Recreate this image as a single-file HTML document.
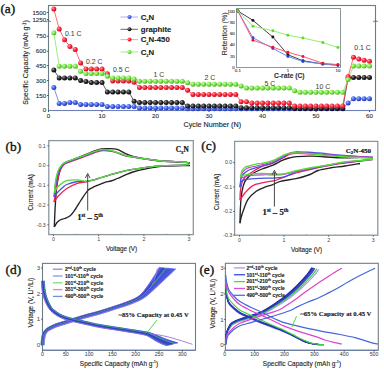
<!DOCTYPE html>
<html><head><meta charset="utf-8"><style>
html,body{margin:0;padding:0;background:#fff;width:384px;height:372px;overflow:hidden}
svg{display:block}
</style></head><body>
<svg width="384" height="372" viewBox="0 0 384 372">
<defs>
<radialGradient id="gR" cx="0.35" cy="0.35" r="0.75"><stop offset="0" stop-color="#ff9aa6"/><stop offset="0.45" stop-color="#ff2a3c"/><stop offset="1" stop-color="#b0001a"/></radialGradient>
<radialGradient id="gG" cx="0.35" cy="0.35" r="0.75"><stop offset="0" stop-color="#c8ffb0"/><stop offset="0.45" stop-color="#7ee84a"/><stop offset="1" stop-color="#3aa010"/></radialGradient>
<radialGradient id="gK" cx="0.35" cy="0.35" r="0.75"><stop offset="0" stop-color="#9a9a9a"/><stop offset="0.45" stop-color="#2a2a2a"/><stop offset="1" stop-color="#000000"/></radialGradient>
<radialGradient id="gB" cx="0.35" cy="0.35" r="0.75"><stop offset="0" stop-color="#a8b8ff"/><stop offset="0.45" stop-color="#4466ee"/><stop offset="1" stop-color="#1a2aa8"/></radialGradient>
</defs>
<rect width="384" height="372" fill="#ffffff"/>
<rect x="48.5" y="5.5" width="327" height="105" fill="none" stroke="#707c82" stroke-width="1.1"/>
<line x1="48.5" y1="110.5" x2="375.5" y2="110.5" stroke="#7080b8" stroke-width="1.1"/>
<path d="M53.85 87.5 L59.2 103.4 L64.55 103.4 L69.9 102.4 L75.25 102.4 L80.6 104.4 L85.95 104.4 L91.3 104.4 L96.65 104.4 L102 104.4 L107.35 106.5 L112.7 106.5 L118.05 106.5 L123.4 106.5 L128.75 106.5 L134.1 106.5 L139.45 108 L144.8 108 L150.15 108 L155.5 108 L160.85 108 L166.2 108 L171.55 108 L176.9 108 L182.25 108 L187.6 108.8 L192.95 108.8 L198.3 108.8 L203.65 108.8 L209 108.8 L214.35 108.8 L219.7 108.8 L225.05 108.8 L230.4 108.8 L235.75 108.8 L241.1 108.8 L246.45 108.8 L251.8 108.8 L257.15 108.8 L262.5 108.8 L267.85 108.8 L273.2 108.8 L278.55 108.8 L283.9 108.8 L289.25 108.8 L294.6 108.8 L299.95 108.8 L305.3 108.8 L310.65 108.8 L316 108.8 L321.35 108.8 L326.7 108.8 L332.05 108.8 L337.4 108.8 L342.75 108.8 L348.1 102.9 L353.45 98.7 L358.8 98.7 L364.15 98.7 L369.5 98.7" fill="none" stroke="#5577ee" stroke-width="0.8" stroke-linejoin="round" />
<path d="M53.85 70 L59.2 77.9 L64.55 77.9 L69.9 77.9 L75.25 77.9 L80.6 80.6 L85.95 81.6 L91.3 82.6 L96.65 82.6 L102 82.6 L107.35 92 L112.7 92 L118.05 92 L123.4 92 L128.75 92 L134.1 101.2 L139.45 102.6 L144.8 102.6 L150.15 102.6 L155.5 102.6 L160.85 102.6 L166.2 102.6 L171.55 102.6 L176.9 102.6 L182.25 102.6 L187.6 106.1 L192.95 106.1 L198.3 106.1 L203.65 106.1 L209 106.1 L214.35 106.1 L219.7 106.1 L225.05 106.1 L230.4 106.1 L235.75 106.1 L241.1 107.7 L246.45 107.7 L251.8 107.7 L257.15 107.7 L262.5 107.7 L267.85 107.7 L273.2 107.7 L278.55 107.7 L283.9 107.7 L289.25 107.7 L294.6 108.4 L299.95 108.4 L305.3 108.4 L310.65 108.4 L316 108.4 L321.35 108.4 L326.7 108.4 L332.05 108.4 L337.4 108.4 L342.75 108.4 L348.1 78 L353.45 77.5 L358.8 77.5 L364.15 77.5 L369.5 77.5" fill="none" stroke="#333333" stroke-width="0.8" stroke-linejoin="round" />
<path d="M53.85 9 L59.2 29 L64.55 39.75 L69.9 46.6 L75.25 49.4 L80.6 62.9 L85.95 69 L91.3 69 L96.65 69 L102 69 L107.35 73.7 L112.7 81 L118.05 81 L123.4 81 L128.75 81 L134.1 82.2 L139.45 87.5 L144.8 87.5 L150.15 87.5 L155.5 87.5 L160.85 87.5 L166.2 87.5 L171.55 87.5 L176.9 87.5 L182.25 87.5 L187.6 90.3 L192.95 94.4 L198.3 94.4 L203.65 94.4 L209 94.4 L214.35 94.4 L219.7 94.4 L225.05 94.4 L230.4 94.4 L235.75 94.4 L241.1 101.8 L246.45 101.8 L251.8 103.1 L257.15 103.1 L262.5 103.1 L267.85 103.1 L273.2 103.1 L278.55 103.1 L283.9 103.1 L289.25 103.1 L294.6 106 L299.95 106 L305.3 106 L310.65 106 L316 106 L321.35 106 L326.7 106 L332.05 106 L337.4 106 L342.75 106 L348.1 76.5 L353.45 57.3 L358.8 59.1 L364.15 60.2 L369.5 61.2" fill="none" stroke="#ff4455" stroke-width="0.8" stroke-linejoin="round" />
<path d="M53.85 32.75 L59.2 66.25 L64.55 66.25 L69.9 66.25 L75.25 66.25 L80.6 71.25 L85.95 73.6 L91.3 73.6 L96.65 73.6 L102 73.6 L107.35 76.3 L112.7 77.9 L118.05 77.9 L123.4 77.9 L128.75 77.9 L134.1 79 L139.45 81.2 L144.8 81.2 L150.15 81.2 L155.5 81.2 L160.85 81.2 L166.2 81.2 L171.55 81.2 L176.9 81.2 L182.25 81.2 L187.6 82.7 L192.95 84.2 L198.3 84.2 L203.65 84.2 L209 84.2 L214.35 84.2 L219.7 84.2 L225.05 84.2 L230.4 84.2 L235.75 84.2 L241.1 86 L246.45 88.1 L251.8 88.1 L257.15 88.1 L262.5 88.1 L267.85 88.1 L273.2 88.1 L278.55 88.1 L283.9 88.1 L289.25 88.1 L294.6 90.75 L299.95 92.3 L305.3 92.3 L310.65 92.3 L316 92.3 L321.35 92.3 L326.7 92.3 L332.05 92.3 L337.4 92.3 L342.75 92.3 L348.1 79.6 L353.45 66.1 L358.8 66.1 L364.15 66.1 L369.5 66.1" fill="none" stroke="#80e860" stroke-width="0.8" stroke-linejoin="round" />
<circle cx="53.85" cy="87.5" r="2.5" fill="url(#gB)"/>
<circle cx="59.2" cy="103.4" r="2.5" fill="url(#gB)"/>
<circle cx="64.55" cy="103.4" r="2.5" fill="url(#gB)"/>
<circle cx="69.9" cy="102.4" r="2.5" fill="url(#gB)"/>
<circle cx="75.25" cy="102.4" r="2.5" fill="url(#gB)"/>
<circle cx="80.6" cy="104.4" r="2.5" fill="url(#gB)"/>
<circle cx="85.95" cy="104.4" r="2.5" fill="url(#gB)"/>
<circle cx="91.3" cy="104.4" r="2.5" fill="url(#gB)"/>
<circle cx="96.65" cy="104.4" r="2.5" fill="url(#gB)"/>
<circle cx="102" cy="104.4" r="2.5" fill="url(#gB)"/>
<circle cx="107.35" cy="106.5" r="2.5" fill="url(#gB)"/>
<circle cx="112.7" cy="106.5" r="2.5" fill="url(#gB)"/>
<circle cx="118.05" cy="106.5" r="2.5" fill="url(#gB)"/>
<circle cx="123.4" cy="106.5" r="2.5" fill="url(#gB)"/>
<circle cx="128.75" cy="106.5" r="2.5" fill="url(#gB)"/>
<circle cx="134.1" cy="106.5" r="2.5" fill="url(#gB)"/>
<circle cx="139.45" cy="108" r="2.5" fill="url(#gB)"/>
<circle cx="144.8" cy="108" r="2.5" fill="url(#gB)"/>
<circle cx="150.15" cy="108" r="2.5" fill="url(#gB)"/>
<circle cx="155.5" cy="108" r="2.5" fill="url(#gB)"/>
<circle cx="160.85" cy="108" r="2.5" fill="url(#gB)"/>
<circle cx="166.2" cy="108" r="2.5" fill="url(#gB)"/>
<circle cx="171.55" cy="108" r="2.5" fill="url(#gB)"/>
<circle cx="176.9" cy="108" r="2.5" fill="url(#gB)"/>
<circle cx="182.25" cy="108" r="2.5" fill="url(#gB)"/>
<circle cx="187.6" cy="108.8" r="2.5" fill="url(#gB)"/>
<circle cx="192.95" cy="108.8" r="2.5" fill="url(#gB)"/>
<circle cx="198.3" cy="108.8" r="2.5" fill="url(#gB)"/>
<circle cx="203.65" cy="108.8" r="2.5" fill="url(#gB)"/>
<circle cx="209" cy="108.8" r="2.5" fill="url(#gB)"/>
<circle cx="214.35" cy="108.8" r="2.5" fill="url(#gB)"/>
<circle cx="219.7" cy="108.8" r="2.5" fill="url(#gB)"/>
<circle cx="225.05" cy="108.8" r="2.5" fill="url(#gB)"/>
<circle cx="230.4" cy="108.8" r="2.5" fill="url(#gB)"/>
<circle cx="235.75" cy="108.8" r="2.5" fill="url(#gB)"/>
<circle cx="241.1" cy="108.8" r="2.5" fill="url(#gB)"/>
<circle cx="246.45" cy="108.8" r="2.5" fill="url(#gB)"/>
<circle cx="251.8" cy="108.8" r="2.5" fill="url(#gB)"/>
<circle cx="257.15" cy="108.8" r="2.5" fill="url(#gB)"/>
<circle cx="262.5" cy="108.8" r="2.5" fill="url(#gB)"/>
<circle cx="267.85" cy="108.8" r="2.5" fill="url(#gB)"/>
<circle cx="273.2" cy="108.8" r="2.5" fill="url(#gB)"/>
<circle cx="278.55" cy="108.8" r="2.5" fill="url(#gB)"/>
<circle cx="283.9" cy="108.8" r="2.5" fill="url(#gB)"/>
<circle cx="289.25" cy="108.8" r="2.5" fill="url(#gB)"/>
<circle cx="294.6" cy="108.8" r="2.5" fill="url(#gB)"/>
<circle cx="299.95" cy="108.8" r="2.5" fill="url(#gB)"/>
<circle cx="305.3" cy="108.8" r="2.5" fill="url(#gB)"/>
<circle cx="310.65" cy="108.8" r="2.5" fill="url(#gB)"/>
<circle cx="316" cy="108.8" r="2.5" fill="url(#gB)"/>
<circle cx="321.35" cy="108.8" r="2.5" fill="url(#gB)"/>
<circle cx="326.7" cy="108.8" r="2.5" fill="url(#gB)"/>
<circle cx="332.05" cy="108.8" r="2.5" fill="url(#gB)"/>
<circle cx="337.4" cy="108.8" r="2.5" fill="url(#gB)"/>
<circle cx="342.75" cy="108.8" r="2.5" fill="url(#gB)"/>
<circle cx="348.1" cy="102.9" r="2.5" fill="url(#gB)"/>
<circle cx="353.45" cy="98.7" r="2.5" fill="url(#gB)"/>
<circle cx="358.8" cy="98.7" r="2.5" fill="url(#gB)"/>
<circle cx="364.15" cy="98.7" r="2.5" fill="url(#gB)"/>
<circle cx="369.5" cy="98.7" r="2.5" fill="url(#gB)"/>
<circle cx="53.85" cy="70" r="2.5" fill="url(#gK)"/>
<circle cx="59.2" cy="77.9" r="2.5" fill="url(#gK)"/>
<circle cx="64.55" cy="77.9" r="2.5" fill="url(#gK)"/>
<circle cx="69.9" cy="77.9" r="2.5" fill="url(#gK)"/>
<circle cx="75.25" cy="77.9" r="2.5" fill="url(#gK)"/>
<circle cx="80.6" cy="80.6" r="2.5" fill="url(#gK)"/>
<circle cx="85.95" cy="81.6" r="2.5" fill="url(#gK)"/>
<circle cx="91.3" cy="82.6" r="2.5" fill="url(#gK)"/>
<circle cx="96.65" cy="82.6" r="2.5" fill="url(#gK)"/>
<circle cx="102" cy="82.6" r="2.5" fill="url(#gK)"/>
<circle cx="107.35" cy="92" r="2.5" fill="url(#gK)"/>
<circle cx="112.7" cy="92" r="2.5" fill="url(#gK)"/>
<circle cx="118.05" cy="92" r="2.5" fill="url(#gK)"/>
<circle cx="123.4" cy="92" r="2.5" fill="url(#gK)"/>
<circle cx="128.75" cy="92" r="2.5" fill="url(#gK)"/>
<circle cx="134.1" cy="101.2" r="2.5" fill="url(#gK)"/>
<circle cx="139.45" cy="102.6" r="2.5" fill="url(#gK)"/>
<circle cx="144.8" cy="102.6" r="2.5" fill="url(#gK)"/>
<circle cx="150.15" cy="102.6" r="2.5" fill="url(#gK)"/>
<circle cx="155.5" cy="102.6" r="2.5" fill="url(#gK)"/>
<circle cx="160.85" cy="102.6" r="2.5" fill="url(#gK)"/>
<circle cx="166.2" cy="102.6" r="2.5" fill="url(#gK)"/>
<circle cx="171.55" cy="102.6" r="2.5" fill="url(#gK)"/>
<circle cx="176.9" cy="102.6" r="2.5" fill="url(#gK)"/>
<circle cx="182.25" cy="102.6" r="2.5" fill="url(#gK)"/>
<circle cx="187.6" cy="106.1" r="2.5" fill="url(#gK)"/>
<circle cx="192.95" cy="106.1" r="2.5" fill="url(#gK)"/>
<circle cx="198.3" cy="106.1" r="2.5" fill="url(#gK)"/>
<circle cx="203.65" cy="106.1" r="2.5" fill="url(#gK)"/>
<circle cx="209" cy="106.1" r="2.5" fill="url(#gK)"/>
<circle cx="214.35" cy="106.1" r="2.5" fill="url(#gK)"/>
<circle cx="219.7" cy="106.1" r="2.5" fill="url(#gK)"/>
<circle cx="225.05" cy="106.1" r="2.5" fill="url(#gK)"/>
<circle cx="230.4" cy="106.1" r="2.5" fill="url(#gK)"/>
<circle cx="235.75" cy="106.1" r="2.5" fill="url(#gK)"/>
<circle cx="241.1" cy="107.7" r="2.5" fill="url(#gK)"/>
<circle cx="246.45" cy="107.7" r="2.5" fill="url(#gK)"/>
<circle cx="251.8" cy="107.7" r="2.5" fill="url(#gK)"/>
<circle cx="257.15" cy="107.7" r="2.5" fill="url(#gK)"/>
<circle cx="262.5" cy="107.7" r="2.5" fill="url(#gK)"/>
<circle cx="267.85" cy="107.7" r="2.5" fill="url(#gK)"/>
<circle cx="273.2" cy="107.7" r="2.5" fill="url(#gK)"/>
<circle cx="278.55" cy="107.7" r="2.5" fill="url(#gK)"/>
<circle cx="283.9" cy="107.7" r="2.5" fill="url(#gK)"/>
<circle cx="289.25" cy="107.7" r="2.5" fill="url(#gK)"/>
<circle cx="294.6" cy="108.4" r="2.5" fill="url(#gK)"/>
<circle cx="299.95" cy="108.4" r="2.5" fill="url(#gK)"/>
<circle cx="305.3" cy="108.4" r="2.5" fill="url(#gK)"/>
<circle cx="310.65" cy="108.4" r="2.5" fill="url(#gK)"/>
<circle cx="316" cy="108.4" r="2.5" fill="url(#gK)"/>
<circle cx="321.35" cy="108.4" r="2.5" fill="url(#gK)"/>
<circle cx="326.7" cy="108.4" r="2.5" fill="url(#gK)"/>
<circle cx="332.05" cy="108.4" r="2.5" fill="url(#gK)"/>
<circle cx="337.4" cy="108.4" r="2.5" fill="url(#gK)"/>
<circle cx="342.75" cy="108.4" r="2.5" fill="url(#gK)"/>
<circle cx="348.1" cy="78" r="2.5" fill="url(#gK)"/>
<circle cx="353.45" cy="77.5" r="2.5" fill="url(#gK)"/>
<circle cx="358.8" cy="77.5" r="2.5" fill="url(#gK)"/>
<circle cx="364.15" cy="77.5" r="2.5" fill="url(#gK)"/>
<circle cx="369.5" cy="77.5" r="2.5" fill="url(#gK)"/>
<circle cx="53.85" cy="9" r="2.5" fill="url(#gR)"/>
<circle cx="59.2" cy="29" r="2.5" fill="url(#gR)"/>
<circle cx="64.55" cy="39.75" r="2.5" fill="url(#gR)"/>
<circle cx="69.9" cy="46.6" r="2.5" fill="url(#gR)"/>
<circle cx="75.25" cy="49.4" r="2.5" fill="url(#gR)"/>
<circle cx="80.6" cy="62.9" r="2.5" fill="url(#gR)"/>
<circle cx="85.95" cy="69" r="2.5" fill="url(#gR)"/>
<circle cx="91.3" cy="69" r="2.5" fill="url(#gR)"/>
<circle cx="96.65" cy="69" r="2.5" fill="url(#gR)"/>
<circle cx="102" cy="69" r="2.5" fill="url(#gR)"/>
<circle cx="107.35" cy="73.7" r="2.5" fill="url(#gR)"/>
<circle cx="112.7" cy="81" r="2.5" fill="url(#gR)"/>
<circle cx="118.05" cy="81" r="2.5" fill="url(#gR)"/>
<circle cx="123.4" cy="81" r="2.5" fill="url(#gR)"/>
<circle cx="128.75" cy="81" r="2.5" fill="url(#gR)"/>
<circle cx="134.1" cy="82.2" r="2.5" fill="url(#gR)"/>
<circle cx="139.45" cy="87.5" r="2.5" fill="url(#gR)"/>
<circle cx="144.8" cy="87.5" r="2.5" fill="url(#gR)"/>
<circle cx="150.15" cy="87.5" r="2.5" fill="url(#gR)"/>
<circle cx="155.5" cy="87.5" r="2.5" fill="url(#gR)"/>
<circle cx="160.85" cy="87.5" r="2.5" fill="url(#gR)"/>
<circle cx="166.2" cy="87.5" r="2.5" fill="url(#gR)"/>
<circle cx="171.55" cy="87.5" r="2.5" fill="url(#gR)"/>
<circle cx="176.9" cy="87.5" r="2.5" fill="url(#gR)"/>
<circle cx="182.25" cy="87.5" r="2.5" fill="url(#gR)"/>
<circle cx="187.6" cy="90.3" r="2.5" fill="url(#gR)"/>
<circle cx="192.95" cy="94.4" r="2.5" fill="url(#gR)"/>
<circle cx="198.3" cy="94.4" r="2.5" fill="url(#gR)"/>
<circle cx="203.65" cy="94.4" r="2.5" fill="url(#gR)"/>
<circle cx="209" cy="94.4" r="2.5" fill="url(#gR)"/>
<circle cx="214.35" cy="94.4" r="2.5" fill="url(#gR)"/>
<circle cx="219.7" cy="94.4" r="2.5" fill="url(#gR)"/>
<circle cx="225.05" cy="94.4" r="2.5" fill="url(#gR)"/>
<circle cx="230.4" cy="94.4" r="2.5" fill="url(#gR)"/>
<circle cx="235.75" cy="94.4" r="2.5" fill="url(#gR)"/>
<circle cx="241.1" cy="101.8" r="2.5" fill="url(#gR)"/>
<circle cx="246.45" cy="101.8" r="2.5" fill="url(#gR)"/>
<circle cx="251.8" cy="103.1" r="2.5" fill="url(#gR)"/>
<circle cx="257.15" cy="103.1" r="2.5" fill="url(#gR)"/>
<circle cx="262.5" cy="103.1" r="2.5" fill="url(#gR)"/>
<circle cx="267.85" cy="103.1" r="2.5" fill="url(#gR)"/>
<circle cx="273.2" cy="103.1" r="2.5" fill="url(#gR)"/>
<circle cx="278.55" cy="103.1" r="2.5" fill="url(#gR)"/>
<circle cx="283.9" cy="103.1" r="2.5" fill="url(#gR)"/>
<circle cx="289.25" cy="103.1" r="2.5" fill="url(#gR)"/>
<circle cx="294.6" cy="106" r="2.5" fill="url(#gR)"/>
<circle cx="299.95" cy="106" r="2.5" fill="url(#gR)"/>
<circle cx="305.3" cy="106" r="2.5" fill="url(#gR)"/>
<circle cx="310.65" cy="106" r="2.5" fill="url(#gR)"/>
<circle cx="316" cy="106" r="2.5" fill="url(#gR)"/>
<circle cx="321.35" cy="106" r="2.5" fill="url(#gR)"/>
<circle cx="326.7" cy="106" r="2.5" fill="url(#gR)"/>
<circle cx="332.05" cy="106" r="2.5" fill="url(#gR)"/>
<circle cx="337.4" cy="106" r="2.5" fill="url(#gR)"/>
<circle cx="342.75" cy="106" r="2.5" fill="url(#gR)"/>
<circle cx="348.1" cy="76.5" r="2.5" fill="url(#gR)"/>
<circle cx="353.45" cy="57.3" r="2.5" fill="url(#gR)"/>
<circle cx="358.8" cy="59.1" r="2.5" fill="url(#gR)"/>
<circle cx="364.15" cy="60.2" r="2.5" fill="url(#gR)"/>
<circle cx="369.5" cy="61.2" r="2.5" fill="url(#gR)"/>
<circle cx="53.85" cy="32.75" r="2.5" fill="url(#gG)"/>
<circle cx="59.2" cy="66.25" r="2.5" fill="url(#gG)"/>
<circle cx="64.55" cy="66.25" r="2.5" fill="url(#gG)"/>
<circle cx="69.9" cy="66.25" r="2.5" fill="url(#gG)"/>
<circle cx="75.25" cy="66.25" r="2.5" fill="url(#gG)"/>
<circle cx="80.6" cy="71.25" r="2.5" fill="url(#gG)"/>
<circle cx="85.95" cy="73.6" r="2.5" fill="url(#gG)"/>
<circle cx="91.3" cy="73.6" r="2.5" fill="url(#gG)"/>
<circle cx="96.65" cy="73.6" r="2.5" fill="url(#gG)"/>
<circle cx="102" cy="73.6" r="2.5" fill="url(#gG)"/>
<circle cx="107.35" cy="76.3" r="2.5" fill="url(#gG)"/>
<circle cx="112.7" cy="77.9" r="2.5" fill="url(#gG)"/>
<circle cx="118.05" cy="77.9" r="2.5" fill="url(#gG)"/>
<circle cx="123.4" cy="77.9" r="2.5" fill="url(#gG)"/>
<circle cx="128.75" cy="77.9" r="2.5" fill="url(#gG)"/>
<circle cx="134.1" cy="79" r="2.5" fill="url(#gG)"/>
<circle cx="139.45" cy="81.2" r="2.5" fill="url(#gG)"/>
<circle cx="144.8" cy="81.2" r="2.5" fill="url(#gG)"/>
<circle cx="150.15" cy="81.2" r="2.5" fill="url(#gG)"/>
<circle cx="155.5" cy="81.2" r="2.5" fill="url(#gG)"/>
<circle cx="160.85" cy="81.2" r="2.5" fill="url(#gG)"/>
<circle cx="166.2" cy="81.2" r="2.5" fill="url(#gG)"/>
<circle cx="171.55" cy="81.2" r="2.5" fill="url(#gG)"/>
<circle cx="176.9" cy="81.2" r="2.5" fill="url(#gG)"/>
<circle cx="182.25" cy="81.2" r="2.5" fill="url(#gG)"/>
<circle cx="187.6" cy="82.7" r="2.5" fill="url(#gG)"/>
<circle cx="192.95" cy="84.2" r="2.5" fill="url(#gG)"/>
<circle cx="198.3" cy="84.2" r="2.5" fill="url(#gG)"/>
<circle cx="203.65" cy="84.2" r="2.5" fill="url(#gG)"/>
<circle cx="209" cy="84.2" r="2.5" fill="url(#gG)"/>
<circle cx="214.35" cy="84.2" r="2.5" fill="url(#gG)"/>
<circle cx="219.7" cy="84.2" r="2.5" fill="url(#gG)"/>
<circle cx="225.05" cy="84.2" r="2.5" fill="url(#gG)"/>
<circle cx="230.4" cy="84.2" r="2.5" fill="url(#gG)"/>
<circle cx="235.75" cy="84.2" r="2.5" fill="url(#gG)"/>
<circle cx="241.1" cy="86" r="2.5" fill="url(#gG)"/>
<circle cx="246.45" cy="88.1" r="2.5" fill="url(#gG)"/>
<circle cx="251.8" cy="88.1" r="2.5" fill="url(#gG)"/>
<circle cx="257.15" cy="88.1" r="2.5" fill="url(#gG)"/>
<circle cx="262.5" cy="88.1" r="2.5" fill="url(#gG)"/>
<circle cx="267.85" cy="88.1" r="2.5" fill="url(#gG)"/>
<circle cx="273.2" cy="88.1" r="2.5" fill="url(#gG)"/>
<circle cx="278.55" cy="88.1" r="2.5" fill="url(#gG)"/>
<circle cx="283.9" cy="88.1" r="2.5" fill="url(#gG)"/>
<circle cx="289.25" cy="88.1" r="2.5" fill="url(#gG)"/>
<circle cx="294.6" cy="90.75" r="2.5" fill="url(#gG)"/>
<circle cx="299.95" cy="92.3" r="2.5" fill="url(#gG)"/>
<circle cx="305.3" cy="92.3" r="2.5" fill="url(#gG)"/>
<circle cx="310.65" cy="92.3" r="2.5" fill="url(#gG)"/>
<circle cx="316" cy="92.3" r="2.5" fill="url(#gG)"/>
<circle cx="321.35" cy="92.3" r="2.5" fill="url(#gG)"/>
<circle cx="326.7" cy="92.3" r="2.5" fill="url(#gG)"/>
<circle cx="332.05" cy="92.3" r="2.5" fill="url(#gG)"/>
<circle cx="337.4" cy="92.3" r="2.5" fill="url(#gG)"/>
<circle cx="342.75" cy="92.3" r="2.5" fill="url(#gG)"/>
<circle cx="348.1" cy="79.6" r="2.5" fill="url(#gG)"/>
<circle cx="353.45" cy="66.1" r="2.5" fill="url(#gG)"/>
<circle cx="358.8" cy="66.1" r="2.5" fill="url(#gG)"/>
<circle cx="364.15" cy="66.1" r="2.5" fill="url(#gG)"/>
<circle cx="369.5" cy="66.1" r="2.5" fill="url(#gG)"/>
<text x="65" y="36.2" font-size="6.9" text-anchor="start" font-weight="normal" font-family='"Liberation Sans", sans-serif' fill="#444" stroke="#444" stroke-width="0.05" >0.1 C</text>
<text x="86" y="63.7" font-size="6.9" text-anchor="start" font-weight="normal" font-family='"Liberation Sans", sans-serif' fill="#444" stroke="#444" stroke-width="0.05" >0.2 C</text>
<text x="113" y="72.3" font-size="6.9" text-anchor="start" font-weight="normal" font-family='"Liberation Sans", sans-serif' fill="#444" stroke="#444" stroke-width="0.05" >0.5 C</text>
<text x="153.6" y="76.9" font-size="6.9" text-anchor="start" font-weight="normal" font-family='"Liberation Sans", sans-serif' fill="#444" stroke="#444" stroke-width="0.05" >1 C</text>
<text x="204.4" y="80.4" font-size="6.9" text-anchor="start" font-weight="normal" font-family='"Liberation Sans", sans-serif' fill="#444" stroke="#444" stroke-width="0.05" >2 C</text>
<text x="264.5" y="85.7" font-size="6.9" text-anchor="start" font-weight="normal" font-family='"Liberation Sans", sans-serif' fill="#444" stroke="#444" stroke-width="0.05" >5 C</text>
<text x="315.6" y="89.2" font-size="6.9" text-anchor="start" font-weight="normal" font-family='"Liberation Sans", sans-serif' fill="#444" stroke="#444" stroke-width="0.05" >10 C</text>
<text x="354.3" y="50.3" font-size="6.9" text-anchor="start" font-weight="normal" font-family='"Liberation Sans", sans-serif' fill="#444" stroke="#444" stroke-width="0.05" >0.1 C</text>
<text x="46.2" y="112.45" font-size="6.2" text-anchor="end" font-weight="normal" font-family='"Liberation Sans", sans-serif' fill="#333" stroke="#333" stroke-width="0.12" >0</text>
<text x="46.2" y="97.7" font-size="6.2" text-anchor="end" font-weight="normal" font-family='"Liberation Sans", sans-serif' fill="#333" stroke="#333" stroke-width="0.12" >150</text>
<text x="46.2" y="82.8" font-size="6.2" text-anchor="end" font-weight="normal" font-family='"Liberation Sans", sans-serif' fill="#333" stroke="#333" stroke-width="0.12" >300</text>
<text x="46.2" y="67.8" font-size="6.2" text-anchor="end" font-weight="normal" font-family='"Liberation Sans", sans-serif' fill="#333" stroke="#333" stroke-width="0.12" >450</text>
<text x="46.2" y="53.45" font-size="6.2" text-anchor="end" font-weight="normal" font-family='"Liberation Sans", sans-serif' fill="#333" stroke="#333" stroke-width="0.12" >600</text>
<text x="46.2" y="38.45" font-size="6.2" text-anchor="end" font-weight="normal" font-family='"Liberation Sans", sans-serif' fill="#333" stroke="#333" stroke-width="0.12" >750</text>
<text x="46.2" y="21.7" font-size="6.2" text-anchor="end" font-weight="normal" font-family='"Liberation Sans", sans-serif' fill="#333" stroke="#333" stroke-width="0.12" >1250</text>
<text x="46.2" y="14.7" font-size="6.2" text-anchor="end" font-weight="normal" font-family='"Liberation Sans", sans-serif' fill="#333" stroke="#333" stroke-width="0.12" >1500</text>
<line x1="47" y1="95.5" x2="48.5" y2="95.5" stroke="#445" stroke-width="0.9"/>
<line x1="47" y1="80.6" x2="48.5" y2="80.6" stroke="#445" stroke-width="0.9"/>
<line x1="47" y1="65.6" x2="48.5" y2="65.6" stroke="#445" stroke-width="0.9"/>
<line x1="47" y1="51.25" x2="48.5" y2="51.25" stroke="#445" stroke-width="0.9"/>
<line x1="47" y1="36.25" x2="48.5" y2="36.25" stroke="#445" stroke-width="0.9"/>
<line x1="47" y1="19.5" x2="48.5" y2="19.5" stroke="#445" stroke-width="0.9"/>
<line x1="47" y1="12.5" x2="48.5" y2="12.5" stroke="#445" stroke-width="0.9"/>
<text x="48.5" y="117.7" font-size="6.2" text-anchor="middle" font-weight="normal" font-family='"Liberation Sans", sans-serif' fill="#333" stroke="#333" stroke-width="0.12" >0</text>
<line x1="48.5" y1="110.5" x2="48.5" y2="112" stroke="#445" stroke-width="0.9"/>
<text x="102" y="117.7" font-size="6.2" text-anchor="middle" font-weight="normal" font-family='"Liberation Sans", sans-serif' fill="#333" stroke="#333" stroke-width="0.12" >10</text>
<line x1="102" y1="110.5" x2="102" y2="112" stroke="#445" stroke-width="0.9"/>
<text x="155.5" y="117.7" font-size="6.2" text-anchor="middle" font-weight="normal" font-family='"Liberation Sans", sans-serif' fill="#333" stroke="#333" stroke-width="0.12" >20</text>
<line x1="155.5" y1="110.5" x2="155.5" y2="112" stroke="#445" stroke-width="0.9"/>
<text x="209" y="117.7" font-size="6.2" text-anchor="middle" font-weight="normal" font-family='"Liberation Sans", sans-serif' fill="#333" stroke="#333" stroke-width="0.12" >30</text>
<line x1="209" y1="110.5" x2="209" y2="112" stroke="#445" stroke-width="0.9"/>
<text x="262.5" y="117.7" font-size="6.2" text-anchor="middle" font-weight="normal" font-family='"Liberation Sans", sans-serif' fill="#333" stroke="#333" stroke-width="0.12" >40</text>
<line x1="262.5" y1="110.5" x2="262.5" y2="112" stroke="#445" stroke-width="0.9"/>
<text x="316" y="117.7" font-size="6.2" text-anchor="middle" font-weight="normal" font-family='"Liberation Sans", sans-serif' fill="#333" stroke="#333" stroke-width="0.12" >50</text>
<line x1="316" y1="110.5" x2="316" y2="112" stroke="#445" stroke-width="0.9"/>
<text x="369.5" y="117.7" font-size="6.2" text-anchor="middle" font-weight="normal" font-family='"Liberation Sans", sans-serif' fill="#333" stroke="#333" stroke-width="0.12" >60</text>
<line x1="369.5" y1="110.5" x2="369.5" y2="112" stroke="#445" stroke-width="0.9"/>
<text x="212.3" y="126.8" font-size="7.2" text-anchor="middle" font-weight="normal" font-family='"Liberation Sans", sans-serif' fill="#222" stroke="#222" stroke-width="0.12" >Cycle Number (N)</text>
<text x="0" y="0" font-size="7" text-anchor="middle" font-weight="normal" font-family='"Liberation Sans", sans-serif' fill="#222" stroke="#222" stroke-width="0.12" transform="translate(28.4 62.5) rotate(-90)">Specific Capacity (mAh g<tspan font-size="4.5" dy="-2.5">-1</tspan><tspan dy="2.5">)</tspan></text>
<path d="M46 22 C48 20.5 50 20.5 51 22" fill="none" stroke="#555" stroke-width="0.8" stroke-linejoin="round" />
<path d="M373 22 C375 20.5 377 20.5 378 22" fill="none" stroke="#555" stroke-width="0.8" stroke-linejoin="round" />
<line x1="120.5" y1="17" x2="138" y2="17" stroke="#8aa0ff" stroke-width="0.8"/>
<circle cx="129.5" cy="17" r="2.0" fill="url(#gB)"/>
<text x="140.7" y="19.7" font-size="7.8" text-anchor="start" font-weight="bold" font-family='"Liberation Sans", sans-serif' fill="#222" stroke="#222" stroke-width="0.12" >C<tspan font-size="3.9" dy="2.2">2</tspan><tspan dy="-2.2">N</tspan></text>
<line x1="120.5" y1="29.3" x2="138" y2="29.3" stroke="#444" stroke-width="0.8"/>
<circle cx="129.5" cy="29.3" r="2.0" fill="url(#gK)"/>
<text x="140.7" y="32" font-size="7.8" text-anchor="start" font-weight="bold" font-family='"Liberation Sans", sans-serif' fill="#222" stroke="#222" stroke-width="0.12" >graphite</text>
<line x1="120.5" y1="39.6" x2="138" y2="39.6" stroke="#ff8a9a" stroke-width="0.8"/>
<circle cx="129.5" cy="39.6" r="2.0" fill="url(#gR)"/>
<text x="140.7" y="42.3" font-size="7.8" text-anchor="start" font-weight="bold" font-family='"Liberation Sans", sans-serif' fill="#222" stroke="#222" stroke-width="0.12" >C<tspan font-size="3.9" dy="2.2">2</tspan><tspan dy="-2.2">N-450</tspan></text>
<line x1="120.5" y1="52" x2="138" y2="52" stroke="#88ee66" stroke-width="0.8"/>
<circle cx="129.5" cy="52" r="2.0" fill="url(#gG)"/>
<text x="140.7" y="54.7" font-size="7.8" text-anchor="start" font-weight="bold" font-family='"Liberation Sans", sans-serif' fill="#222" stroke="#222" stroke-width="0.12" >C<tspan font-size="3.9" dy="2.2">3</tspan><tspan dy="-2.2">N</tspan></text>
<rect x="236.5" y="8.5" width="104" height="59" fill="#ffffff" stroke="#8c979c" stroke-width="1"/>
<path d="M237.9 11 L252.95 20.4 L272.85 37 L287.9 54.8 L302.95 60.7 L322.85 64 L337.9 65" fill="none" stroke="#444" stroke-width="1" stroke-linejoin="round" />
<circle cx="237.9" cy="11" r="1.45" fill="#111"/>
<circle cx="252.95" cy="20.4" r="1.45" fill="#111"/>
<circle cx="272.85" cy="37" r="1.45" fill="#111"/>
<circle cx="287.9" cy="54.8" r="1.45" fill="#111"/>
<circle cx="302.95" cy="60.7" r="1.45" fill="#111"/>
<circle cx="322.85" cy="64" r="1.45" fill="#111"/>
<circle cx="337.9" cy="65" r="1.45" fill="#111"/>
<path d="M237.9 11 L252.95 37.8 L272.85 48.4 L287.9 56.5 L302.95 61.5 L322.85 64 L337.9 65.5" fill="none" stroke="#6a8af0" stroke-width="1" stroke-linejoin="round" />
<circle cx="237.9" cy="11" r="1.45" fill="#2244dd"/>
<circle cx="252.95" cy="37.8" r="1.45" fill="#2244dd"/>
<circle cx="272.85" cy="48.4" r="1.45" fill="#2244dd"/>
<circle cx="287.9" cy="56.5" r="1.45" fill="#2244dd"/>
<circle cx="302.95" cy="61.5" r="1.45" fill="#2244dd"/>
<circle cx="322.85" cy="64" r="1.45" fill="#2244dd"/>
<circle cx="337.9" cy="65.5" r="1.45" fill="#2244dd"/>
<path d="M237.9 11 L252.95 40.2 L272.85 47.2 L287.9 52.3 L302.95 56.5 L322.85 63.2 L337.9 64.6" fill="none" stroke="#ff5a70" stroke-width="1" stroke-linejoin="round" />
<circle cx="237.9" cy="11" r="1.45" fill="#ee1133"/>
<circle cx="252.95" cy="40.2" r="1.45" fill="#ee1133"/>
<circle cx="272.85" cy="47.2" r="1.45" fill="#ee1133"/>
<circle cx="287.9" cy="52.3" r="1.45" fill="#ee1133"/>
<circle cx="302.95" cy="56.5" r="1.45" fill="#ee1133"/>
<circle cx="322.85" cy="63.2" r="1.45" fill="#ee1133"/>
<circle cx="337.9" cy="64.6" r="1.45" fill="#ee1133"/>
<path d="M237.9 11 L252.95 26.3 L272.85 30.7 L287.9 35.25 L302.95 38 L322.85 42.5 L337.9 47.5" fill="none" stroke="#90f070" stroke-width="1" stroke-linejoin="round" />
<circle cx="237.9" cy="11" r="1.45" fill="#55dd22"/>
<circle cx="252.95" cy="26.3" r="1.45" fill="#55dd22"/>
<circle cx="272.85" cy="30.7" r="1.45" fill="#55dd22"/>
<circle cx="287.9" cy="35.25" r="1.45" fill="#55dd22"/>
<circle cx="302.95" cy="38" r="1.45" fill="#55dd22"/>
<circle cx="322.85" cy="42.5" r="1.45" fill="#55dd22"/>
<circle cx="337.9" cy="47.5" r="1.45" fill="#55dd22"/>
<text x="234.8" y="12.5" font-size="4.4" text-anchor="end" font-weight="normal" font-family='"Liberation Sans", sans-serif' fill="#333" stroke="#333" stroke-width="0.1" >100</text>
<text x="234.8" y="23.5" font-size="4.4" text-anchor="end" font-weight="normal" font-family='"Liberation Sans", sans-serif' fill="#333" stroke="#333" stroke-width="0.1" >80</text>
<text x="234.8" y="35.4" font-size="4.4" text-anchor="end" font-weight="normal" font-family='"Liberation Sans", sans-serif' fill="#333" stroke="#333" stroke-width="0.1" >60</text>
<text x="234.8" y="46.3" font-size="4.4" text-anchor="end" font-weight="normal" font-family='"Liberation Sans", sans-serif' fill="#333" stroke="#333" stroke-width="0.1" >40</text>
<text x="234.8" y="57.75" font-size="4.4" text-anchor="end" font-weight="normal" font-family='"Liberation Sans", sans-serif' fill="#333" stroke="#333" stroke-width="0.1" >20</text>
<text x="234.8" y="68.7" font-size="4.4" text-anchor="end" font-weight="normal" font-family='"Liberation Sans", sans-serif' fill="#333" stroke="#333" stroke-width="0.1" >0</text>
<text x="237.9" y="71.6" font-size="4.4" text-anchor="middle" font-weight="normal" font-family='"Liberation Sans", sans-serif' fill="#333" stroke="#333" stroke-width="0.1" >0.1</text>
<text x="287.9" y="71.6" font-size="4.4" text-anchor="middle" font-weight="normal" font-family='"Liberation Sans", sans-serif' fill="#333" stroke="#333" stroke-width="0.1" >1</text>
<text x="337.9" y="71.6" font-size="4.4" text-anchor="middle" font-weight="normal" font-family='"Liberation Sans", sans-serif' fill="#333" stroke="#333" stroke-width="0.1" >10</text>
<text x="289.3" y="77.5" font-size="6.7" text-anchor="middle" font-weight="bold" font-family='"Liberation Sans", sans-serif' fill="#333" stroke="#333" stroke-width="0.12" >C-rate (C)</text>
<text x="0" y="0" font-size="7" text-anchor="middle" font-weight="normal" font-family='"Liberation Sans", sans-serif' fill="#333" stroke="#333" stroke-width="0.12" transform="translate(227.2 33.9) rotate(-90)">Retention (%)</text>
<text x="0.4" y="13.3" font-size="13.4" text-anchor="start" font-weight="normal" font-family='"Liberation Serif", serif' fill="#111" stroke="#111" stroke-width="0.35" >(a)</text>
<rect x="48.8" y="140.6" width="144.5" height="94" fill="none" stroke="#8c979c" stroke-width="1.3"/>
<text x="5.5" y="150.7" font-size="13.4" text-anchor="start" font-weight="normal" font-family='"Liberation Serif", serif' fill="#111" stroke="#111" stroke-width="0.35" >(b)</text>
<text x="45.8" y="147.55" font-size="5.3" text-anchor="end" font-weight="normal" font-family='"Liberation Sans", sans-serif' fill="#444" >0.1</text>
<line x1="47.3" y1="145.75" x2="48.8" y2="145.75" stroke="#445" stroke-width="0.8"/>
<text x="45.8" y="167.3" font-size="5.3" text-anchor="end" font-weight="normal" font-family='"Liberation Sans", sans-serif' fill="#444" >0.0</text>
<line x1="47.3" y1="165.5" x2="48.8" y2="165.5" stroke="#445" stroke-width="0.8"/>
<text x="45.8" y="187.1" font-size="5.3" text-anchor="end" font-weight="normal" font-family='"Liberation Sans", sans-serif' fill="#444" >-0.1</text>
<line x1="47.3" y1="185.3" x2="48.8" y2="185.3" stroke="#445" stroke-width="0.8"/>
<text x="45.8" y="206.8" font-size="5.3" text-anchor="end" font-weight="normal" font-family='"Liberation Sans", sans-serif' fill="#444" >-0.2</text>
<line x1="47.3" y1="205" x2="48.8" y2="205" stroke="#445" stroke-width="0.8"/>
<text x="45.8" y="226.6" font-size="5.3" text-anchor="end" font-weight="normal" font-family='"Liberation Sans", sans-serif' fill="#444" >-0.3</text>
<line x1="47.3" y1="224.8" x2="48.8" y2="224.8" stroke="#445" stroke-width="0.8"/>
<text x="53.5" y="241" font-size="5.3" text-anchor="middle" font-weight="normal" font-family='"Liberation Sans", sans-serif' fill="#444" >0</text>
<line x1="53.5" y1="234.6" x2="53.5" y2="236.1" stroke="#445" stroke-width="0.8"/>
<line x1="76.1" y1="234.6" x2="76.1" y2="233.4" stroke="#8c979c" stroke-width="0.6"/>
<text x="98.7" y="241" font-size="5.3" text-anchor="middle" font-weight="normal" font-family='"Liberation Sans", sans-serif' fill="#444" >1</text>
<line x1="98.7" y1="234.6" x2="98.7" y2="236.1" stroke="#445" stroke-width="0.8"/>
<line x1="121.3" y1="234.6" x2="121.3" y2="233.4" stroke="#8c979c" stroke-width="0.6"/>
<text x="143.9" y="241" font-size="5.3" text-anchor="middle" font-weight="normal" font-family='"Liberation Sans", sans-serif' fill="#444" >2</text>
<line x1="143.9" y1="234.6" x2="143.9" y2="236.1" stroke="#445" stroke-width="0.8"/>
<line x1="166.5" y1="234.6" x2="166.5" y2="233.4" stroke="#8c979c" stroke-width="0.6"/>
<text x="189.1" y="241" font-size="5.3" text-anchor="middle" font-weight="normal" font-family='"Liberation Sans", sans-serif' fill="#444" >3</text>
<line x1="189.1" y1="234.6" x2="189.1" y2="236.1" stroke="#445" stroke-width="0.8"/>
<text x="121.5" y="251" font-size="6.3" text-anchor="middle" font-weight="normal" font-family='"Liberation Sans", sans-serif' fill="#222" stroke="#222" stroke-width="0.12" >Voltage (V)</text>
<text x="0" y="0" font-size="6.3" text-anchor="middle" font-weight="normal" font-family='"Liberation Sans", sans-serif' fill="#222" stroke="#222" stroke-width="0.12" transform="translate(33.3 192.4) rotate(-90)">Current (mA)</text>
<text x="175.8" y="152.3" font-size="7.3" text-anchor="start" font-weight="bold" font-family='"Liberation Serif", serif' fill="#111" stroke="#111" stroke-width="0.2" >C<tspan font-size="4.6" dy="1.5">3</tspan><tspan dy="-1.5">N</tspan></text>
<path d="M190 165.5 C188.75 165.53 187.22 165.57 182.5 165.7 C177.78 165.83 167.78 165.77 161.7 166.3 C155.62 166.83 150.8 167.95 146 168.9 C141.2 169.85 136.4 170.95 132.9 172 C129.4 173.05 127.61 174.12 125 175.2 C122.39 176.28 119.58 177.53 117.25 178.5 C114.92 179.47 113.04 180.37 111 181 C108.96 181.63 107.17 181.6 105 182.3 C102.83 183 100.17 184.28 98 185.2 C95.83 186.12 93.72 186.9 92 187.8 C90.28 188.7 89.47 188.65 87.7 190.6 C85.93 192.55 83.43 196.43 81.4 199.5 C79.37 202.57 77.32 206.33 75.5 209 C73.68 211.67 72.29 213.92 70.5 215.5 C68.71 217.08 66.4 217.79 64.75 218.5 C63.1 219.21 61.89 219.08 60.6 219.75 C59.31 220.42 58.05 221.29 57 222.5 C55.95 223.71 54.75 226.25 54.3 227" fill="none" stroke="#222" stroke-width="1.35" stroke-linejoin="round" />
<path d="M54.3 227 C54.47 223.33 54.85 212 55.3 205 C55.75 198 56.3 190.5 57 185 C57.7 179.5 58.55 175.42 59.5 172 C60.45 168.58 61.12 166.33 62.7 164.5 C64.28 162.67 66.58 162.1 69 161 C71.42 159.9 74.42 158.98 77.25 157.9 C80.08 156.82 83.24 155.61 86 154.5 C88.76 153.39 91.2 152.17 93.8 151.25 C96.4 150.33 99 149.44 101.6 149 C104.2 148.56 106.79 148.53 109.4 148.6 C112.01 148.67 114.65 148.62 117.25 149.4 C119.85 150.18 122.39 152.13 125 153.3 C127.61 154.47 129.4 155.45 132.9 156.4 C136.4 157.35 141.2 158.23 146 159 C150.8 159.77 155.62 160.47 161.7 161 C167.78 161.53 177.78 161.87 182.5 162.2 C187.22 162.53 188.75 162.87 190 163" fill="none" stroke="#222" stroke-width="1.35" stroke-linejoin="round" />
<path d="M54 202 C54.33 200.15 55.37 194.75 56 190.9 C56.63 187.05 57.13 182.23 57.8 178.9 C58.47 175.57 59.02 173.23 60 170.9 C60.98 168.57 62.53 166.23 63.7 164.9 C64.87 163.57 65.95 163.42 67 162.9 C68.05 162.38 68.12 162.48 70 161.8 C71.88 161.12 75.42 159.82 78.25 158.8 C81.08 157.78 84.24 156.73 87 155.7 C89.76 154.67 92.2 153.45 94.8 152.6 C97.4 151.75 100 150.85 102.6 150.6 C105.2 150.35 107.83 150.67 110.4 151.1 C112.97 151.53 115.49 152.41 118.01 153.18 C120.53 153.96 122.98 155.09 125.5 155.75 C128.02 156.41 129.72 156.57 133.14 157.11 C136.55 157.65 141.24 158.35 146 159 C150.76 159.65 155.62 160.5 161.7 161 C167.78 161.5 177.99 161.72 182.5 162 C187.01 162.28 187.71 162.58 188.75 162.7" fill="none" stroke="#ee2255" stroke-width="1.3" stroke-linejoin="round" />
<path d="M188.75 164.5 C187.71 164.62 187.01 164.98 182.5 165.2 C177.99 165.42 167.78 165.45 161.7 165.8 C155.62 166.15 150.8 166.7 146 167.3 C141.2 167.9 136.4 168.8 132.9 169.4 C129.4 170 127.61 170.33 125 170.9 C122.39 171.47 119.85 172.08 117.25 172.8 C114.65 173.52 112.01 174.42 109.4 175.2 C106.79 175.98 104.2 176.73 101.6 177.5 C99 178.27 96.4 179.08 93.8 179.8 C91.2 180.52 88.76 181.22 86 181.8 C83.24 182.38 80.45 182.18 77.25 183.3 C74.05 184.42 69.92 186.42 66.8 188.5 C63.67 190.58 60.63 193.55 58.5 195.8 C56.37 198.05 54.75 200.97 54 202" fill="none" stroke="#ee2255" stroke-width="1.3" stroke-linejoin="round" />
<path d="M54 196.8 C54.25 195.08 54.95 189.84 55.5 186.45 C56.05 183.06 56.63 179.2 57.3 176.45 C57.97 173.7 58.52 171.95 59.5 169.95 C60.48 167.95 62.03 165.7 63.2 164.45 C64.37 163.2 65.45 162.97 66.5 162.45 C67.55 161.93 67.62 162.03 69.5 161.35 C71.38 160.67 74.92 159.37 77.75 158.35 C80.58 157.33 83.74 156.28 86.5 155.25 C89.26 154.22 91.7 153 94.3 152.15 C96.9 151.3 99.5 150.4 102.1 150.15 C104.7 149.9 107.31 150.2 109.9 150.65 C112.49 151.1 115.07 152.03 117.63 152.84 C120.19 153.65 122.69 154.83 125.25 155.53 C127.81 156.22 129.56 156.43 133.02 157.01 C136.48 157.59 141.22 158.33 146 159 C150.78 159.67 155.62 160.5 161.7 161 C167.78 161.5 177.99 161.72 182.5 162 C187.01 162.28 187.71 162.58 188.75 162.7" fill="none" stroke="#4455dd" stroke-width="1.3" stroke-linejoin="round" />
<path d="M188.75 164.5 C187.71 164.62 187.01 164.98 182.5 165.2 C177.99 165.42 167.78 165.45 161.7 165.8 C155.62 166.15 150.8 166.7 146 167.3 C141.2 167.9 136.4 168.8 132.9 169.4 C129.4 170 127.61 170.33 125 170.9 C122.39 171.47 119.85 172.08 117.25 172.8 C114.65 173.52 112.01 174.42 109.4 175.2 C106.79 175.98 104.2 176.73 101.6 177.5 C99 178.27 96.4 179.13 93.8 179.8 C91.2 180.47 88.76 181.22 86 181.5 C83.24 181.78 80.45 181 77.25 181.5 C74.05 182 69.22 183.5 66.8 184.5 C64.38 185.5 64.33 186.08 62.7 187.5 C61.07 188.92 58.45 191.45 57 193 C55.55 194.55 54.5 196.17 54 196.8" fill="none" stroke="#4455dd" stroke-width="1.3" stroke-linejoin="round" />
<path d="M54 196.8 C54.17 195 54.53 189.47 55 186 C55.47 182.53 56.13 178.75 56.8 176 C57.47 173.25 58.02 171.5 59 169.5 C59.98 167.5 61.53 165.25 62.7 164 C63.87 162.75 64.95 162.52 66 162 C67.05 161.48 67.12 161.58 69 160.9 C70.88 160.22 74.42 158.92 77.25 157.9 C80.08 156.88 83.24 155.83 86 154.8 C88.76 153.77 91.2 152.55 93.8 151.7 C96.4 150.85 99 149.95 101.6 149.7 C104.2 149.45 106.79 149.73 109.4 150.2 C112.01 150.67 114.65 151.65 117.25 152.5 C119.85 153.35 122.39 154.57 125 155.3 C127.61 156.03 129.4 156.28 132.9 156.9 C136.4 157.52 141.2 158.32 146 159 C150.8 159.68 155.62 160.5 161.7 161 C167.78 161.5 177.99 161.72 182.5 162 C187.01 162.28 187.71 162.58 188.75 162.7" fill="none" stroke="#aa44cc" stroke-width="0.7" stroke-linejoin="round" />
<path d="M54.5 192.7 C54.63 191.08 54.92 185.95 55.3 183 C55.68 180.05 56.18 177.37 56.8 175 C57.42 172.63 58.02 170.63 59 168.8 C59.98 166.97 61.53 165.13 62.7 164 C63.87 162.87 64.95 162.52 66 162 C67.05 161.48 67.12 161.58 69 160.9 C70.88 160.22 74.42 158.92 77.25 157.9 C80.08 156.88 83.24 155.83 86 154.8 C88.76 153.77 91.2 152.55 93.8 151.7 C96.4 150.85 99 149.95 101.6 149.7 C104.2 149.45 106.79 149.73 109.4 150.2 C112.01 150.67 114.65 151.65 117.25 152.5 C119.85 153.35 122.39 154.57 125 155.3 C127.61 156.03 129.4 156.28 132.9 156.9 C136.4 157.52 141.2 158.32 146 159 C150.8 159.68 155.62 160.5 161.7 161 C167.78 161.5 177.99 161.72 182.5 162 C187.01 162.28 187.71 162.58 188.75 162.7" fill="none" stroke="#55dd33" stroke-width="1.35" stroke-linejoin="round" />
<path d="M188.75 164.5 C187.71 164.62 187.01 164.98 182.5 165.2 C177.99 165.42 167.78 165.45 161.7 165.8 C155.62 166.15 150.8 166.7 146 167.3 C141.2 167.9 136.4 168.8 132.9 169.4 C129.4 170 127.61 170.33 125 170.9 C122.39 171.47 119.85 172.08 117.25 172.8 C114.65 173.52 112.01 174.42 109.4 175.2 C106.79 175.98 104.2 176.73 101.6 177.5 C99 178.27 96.4 179.18 93.8 179.8 C91.2 180.42 88.76 181.18 86 181.2 C83.24 181.22 80.45 180 77.25 179.9 C74.05 179.8 69.58 179.87 66.8 180.6 C64.02 181.33 62.4 182.9 60.6 184.3 C58.8 185.7 57.02 187.6 56 189 C54.98 190.4 54.75 192.08 54.5 192.7" fill="none" stroke="#55dd33" stroke-width="1.35" stroke-linejoin="round" />
<line x1="87.7" y1="210.5" x2="87.7" y2="175" stroke="#333" stroke-width="0.9"/>
<path d="M85.4 178 L87.7 173.4 L90 178" fill="none" stroke="#333" stroke-width="0.9" stroke-linejoin="round" />
<text x="77.2" y="220" font-size="8.7" text-anchor="start" font-weight="bold" font-family='"Liberation Serif", serif' fill="#111" stroke="#111" stroke-width="0.2" >1<tspan font-size="5.2" dy="-3.2">st</tspan><tspan dy="3.2"> – 5</tspan><tspan font-size="5.2" dy="-3.2">th</tspan></text>
<rect x="234.6" y="141.4" width="143.2" height="93.8" fill="none" stroke="#8c979c" stroke-width="1.3"/>
<text x="201.2" y="150.4" font-size="13.4" text-anchor="start" font-weight="normal" font-family='"Liberation Serif", serif' fill="#111" stroke="#111" stroke-width="0.35" >(c)</text>
<text x="232.3" y="164.4" font-size="5.3" text-anchor="end" font-weight="normal" font-family='"Liberation Sans", sans-serif' fill="#444" >0.0</text>
<line x1="233.1" y1="162.6" x2="234.6" y2="162.6" stroke="#445" stroke-width="0.8"/>
<text x="232.3" y="188.8" font-size="5.3" text-anchor="end" font-weight="normal" font-family='"Liberation Sans", sans-serif' fill="#444" >-0.1</text>
<line x1="233.1" y1="187" x2="234.6" y2="187" stroke="#445" stroke-width="0.8"/>
<text x="232.3" y="213.3" font-size="5.3" text-anchor="end" font-weight="normal" font-family='"Liberation Sans", sans-serif' fill="#444" >-0.2</text>
<line x1="233.1" y1="211.5" x2="234.6" y2="211.5" stroke="#445" stroke-width="0.8"/>
<text x="232.3" y="236.8" font-size="5.3" text-anchor="end" font-weight="normal" font-family='"Liberation Sans", sans-serif' fill="#444" >-0.3</text>
<line x1="233.1" y1="235" x2="234.6" y2="235" stroke="#445" stroke-width="0.8"/>
<text x="239.5" y="241.5" font-size="5.3" text-anchor="middle" font-weight="normal" font-family='"Liberation Sans", sans-serif' fill="#444" >0</text>
<line x1="239.5" y1="235.2" x2="239.5" y2="236.7" stroke="#445" stroke-width="0.8"/>
<line x1="261.8" y1="235.2" x2="261.8" y2="234" stroke="#8c979c" stroke-width="0.6"/>
<text x="284.1" y="241.5" font-size="5.3" text-anchor="middle" font-weight="normal" font-family='"Liberation Sans", sans-serif' fill="#444" >1</text>
<line x1="284.1" y1="235.2" x2="284.1" y2="236.7" stroke="#445" stroke-width="0.8"/>
<line x1="306.4" y1="235.2" x2="306.4" y2="234" stroke="#8c979c" stroke-width="0.6"/>
<text x="328.7" y="241.5" font-size="5.3" text-anchor="middle" font-weight="normal" font-family='"Liberation Sans", sans-serif' fill="#444" >2</text>
<line x1="328.7" y1="235.2" x2="328.7" y2="236.7" stroke="#445" stroke-width="0.8"/>
<line x1="351" y1="235.2" x2="351" y2="234" stroke="#8c979c" stroke-width="0.6"/>
<text x="373.3" y="241.5" font-size="5.3" text-anchor="middle" font-weight="normal" font-family='"Liberation Sans", sans-serif' fill="#444" >3</text>
<line x1="373.3" y1="235.2" x2="373.3" y2="236.7" stroke="#445" stroke-width="0.8"/>
<text x="306.5" y="251.5" font-size="6.3" text-anchor="middle" font-weight="normal" font-family='"Liberation Sans", sans-serif' fill="#222" stroke="#222" stroke-width="0.12" >Voltage (V)</text>
<text x="0" y="0" font-size="6.3" text-anchor="middle" font-weight="normal" font-family='"Liberation Sans", sans-serif' fill="#222" stroke="#222" stroke-width="0.12" transform="translate(218.6 191.8) rotate(-90)">Current (mA)</text>
<text x="345.8" y="152.7" font-size="7" text-anchor="start" font-weight="bold" font-family='"Liberation Serif", serif' fill="#111" stroke="#111" stroke-width="0.2" >C<tspan font-size="4.6" dy="1.5">2</tspan><tspan dy="-1.5">N-450</tspan></text>
<path d="M360 163.5 C357.5 163.92 350 165.25 345 166 C340 166.75 334.5 167.25 330 168 C325.5 168.75 321.33 169.42 318 170.5 C314.67 171.58 313.67 173.13 310 174.5 C306.33 175.87 300.93 177.57 296 178.7 C291.07 179.83 284.35 180.28 280.4 181.3 C276.45 182.32 274.98 183.8 272.3 184.8 C269.62 185.8 266.98 186.22 264.3 187.3 C261.62 188.38 258.92 189.28 256.2 191.3 C253.48 193.32 250.15 196.18 248 199.4 C245.85 202.62 244.47 207.5 243.3 210.6 C242.13 213.7 241.55 215.9 241 218 C240.45 220.1 240.17 222.33 240 223.2" fill="none" stroke="#222" stroke-width="1.35" stroke-linejoin="round" />
<path d="M240 223.2 C240.07 220.67 240.18 212.53 240.4 208 C240.62 203.47 240.87 199.5 241.3 196 C241.73 192.5 242.3 189.58 243 187 C243.7 184.42 244 182.67 245.5 180.5 C247 178.33 249.25 175.92 252 174 C254.75 172.08 258.6 170.43 262 169 C265.4 167.57 268.93 166.88 272.4 165.4 C275.87 163.92 280.03 161.33 282.8 160.1 C285.57 158.87 286.73 158.57 289 158 C291.27 157.43 292.57 157 296.4 156.7 C300.23 156.4 304.73 156.02 312 156.2 C319.27 156.38 332.33 157.57 340 157.8 C347.67 158.03 355 157.63 358 157.6" fill="none" stroke="#222" stroke-width="1.35" stroke-linejoin="round" />
<path d="M240 200.2 C240.08 198.5 240 193.37 240.5 190 C241 186.63 241.75 182.55 243 180 C244.25 177.45 244.83 176.97 248 174.7 C251.17 172.43 257.93 168.3 262 166.4 C266.07 164.5 268.93 164.7 272.4 163.3 C275.87 161.9 279.87 159.52 282.8 158 C285.73 156.48 287.73 154.97 290 154.2 C292.27 153.43 292.73 153.43 296.4 153.4 C300.07 153.37 304.73 153.57 312 154 C319.27 154.43 329.83 155.42 340 156 C350.17 156.58 367.5 157.25 373 157.5" fill="none" stroke="#ee2255" stroke-width="1.3" stroke-linejoin="round" />
<path d="M373 159.5 C367.5 160.2 350.17 162.12 340 163.7 C329.83 165.28 319.33 167.45 312 169 C304.67 170.55 301.33 171.38 296 173 C290.67 174.62 283.55 177.43 280 178.7 C276.45 179.97 277.32 179.98 274.7 180.6 C272.08 181.22 267.92 181.57 264.3 182.4 C260.68 183.23 256.23 183.83 253 185.6 C249.77 187.37 247.07 190.57 244.9 193 C242.73 195.43 240.82 199 240 200.2" fill="none" stroke="#ee2255" stroke-width="1.3" stroke-linejoin="round" />
<path d="M240 187.3 C240.18 185.75 240.48 180.25 241.1 178 C241.72 175.75 242.22 175.22 243.7 173.8 C245.18 172.38 246.95 170.8 250 169.5 C253.05 168.2 258.27 167.08 262 166 C265.73 164.92 268.93 164.42 272.4 163 C275.87 161.58 280.03 159.08 282.8 157.5 C285.57 155.92 286.73 154.45 289 153.5 C291.27 152.55 292.52 151.97 296.4 151.8 C300.28 151.63 308.03 152.27 312.3 152.5 C316.57 152.73 317.38 152.75 322 153.2 C326.62 153.65 331.5 154.52 340 155.2 C348.5 155.88 367.5 156.95 373 157.3" fill="none" stroke="#4455dd" stroke-width="1.3" stroke-linejoin="round" />
<path d="M373 159.3 C367.5 159.95 350.17 161.67 340 163.2 C329.83 164.73 319.33 167.03 312 168.5 C304.67 169.97 301 170.53 296 172 C291 173.47 288 176.23 282 177.3 C276 178.37 266.17 178.03 260 178.4 C253.83 178.77 248.17 178.9 245 179.5 C241.83 180.1 241.83 180.7 241 182 C240.17 183.3 240.17 186.42 240 187.3" fill="none" stroke="#4455dd" stroke-width="1.3" stroke-linejoin="round" />
<path d="M240.5 179 C240.83 177.92 241.67 174.12 242.5 172.5 C243.33 170.88 244.42 170.12 245.5 169.3 C246.58 168.48 246.25 168.35 249 167.6 C251.75 166.85 258.1 165.77 262 164.8 C265.9 163.83 268.93 163.18 272.4 161.8 C275.87 160.42 280.03 157.87 282.8 156.5 C285.57 155.13 286.73 154.25 289 153.6 C291.27 152.95 292.57 152.62 296.4 152.6 C300.23 152.58 304.73 153.02 312 153.5 C319.27 153.98 329.83 154.87 340 155.5 C350.17 156.13 367.5 157 373 157.3" fill="none" stroke="#bb44cc" stroke-width="1.1" stroke-linejoin="round" />
<path d="M373 159.3 C367.5 159.92 350.17 161.55 340 163 C329.83 164.45 319.33 166.58 312 168 C304.67 169.42 301 170.38 296 171.5 C291 172.62 287.17 174.15 282 174.7 C276.83 175.25 270.33 174.68 265 174.8 C259.67 174.92 253.67 174.95 250 175.4 C246.33 175.85 244.58 176.9 243 177.5 C241.42 178.1 240.92 178.75 240.5 179" fill="none" stroke="#bb44cc" stroke-width="1.1" stroke-linejoin="round" />
<path d="M240.5 176.7 C240.75 175.67 241.25 172.07 242 170.5 C242.75 168.93 243.83 168.07 245 167.3 C246.17 166.53 246.83 166.5 249 165.9 C251.17 165.3 255.83 164.12 258 163.7 C260.17 163.28 259.6 163.9 262 163.4 C264.4 162.9 268.93 162.02 272.4 160.7 C275.87 159.38 280.03 156.73 282.8 155.5 C285.57 154.27 286.73 153.75 289 153.3 C291.27 152.85 292.57 152.72 296.4 152.8 C300.23 152.88 304.73 153.18 312 153.8 C319.27 154.42 329.83 155.75 340 156.5 C350.17 157.25 367.5 158 373 158.3" fill="none" stroke="#55dd33" stroke-width="1.35" stroke-linejoin="round" />
<path d="M373 159.3 C371.67 159.45 369.67 159.78 365 160.2 C360.33 160.62 349.17 161.4 345 161.8 C340.83 162.2 342.83 162.07 340 162.6 C337.17 163.13 332.67 164.18 328 165 C323.33 165.82 317.33 166.55 312 167.5 C306.67 168.45 301 169.62 296 170.7 C291 171.78 287.67 173.55 282 174 C276.33 174.45 267.17 173.43 262 173.4 C256.83 173.37 254.17 173.45 251 173.8 C247.83 174.15 244.75 175.02 243 175.5 C241.25 175.98 240.92 176.5 240.5 176.7" fill="none" stroke="#55dd33" stroke-width="1.35" stroke-linejoin="round" />
<line x1="274.4" y1="206.6" x2="274.4" y2="172" stroke="#333" stroke-width="0.9"/>
<path d="M272.1 174.8 L274.4 170.2 L276.7 174.8" fill="none" stroke="#333" stroke-width="0.9" stroke-linejoin="round" />
<text x="262.6" y="215" font-size="8.7" text-anchor="start" font-weight="bold" font-family='"Liberation Serif", serif' fill="#111" stroke="#111" stroke-width="0.2" >1<tspan font-size="5.2" dy="-3.2">st</tspan><tspan dy="3.2"> – 5</tspan><tspan font-size="5.2" dy="-3.2">th</tspan></text>
<rect x="42.5" y="263.4" width="153" height="86.9" fill="none" stroke="#707c82" stroke-width="1.1"/>
<line x1="42.5" y1="350.3" x2="195.5" y2="350.3" stroke="#6878a8" stroke-width="1.1"/>
<text x="5.5" y="273.9" font-size="13.4" text-anchor="start" font-weight="normal" font-family='"Liberation Serif", serif' fill="#111" stroke="#111" stroke-width="0.35" >(d)</text>
<text x="40.3" y="346.9" font-size="6.2" text-anchor="end" font-weight="normal" font-family='"Liberation Sans", sans-serif' fill="#444" >0</text>
<line x1="41" y1="344.8" x2="42.5" y2="344.8" stroke="#445" stroke-width="0.8"/>
<text x="40.3" y="321.3" font-size="6.2" text-anchor="end" font-weight="normal" font-family='"Liberation Sans", sans-serif' fill="#444" >1</text>
<line x1="41" y1="319.2" x2="42.5" y2="319.2" stroke="#445" stroke-width="0.8"/>
<text x="40.3" y="295.6" font-size="6.2" text-anchor="end" font-weight="normal" font-family='"Liberation Sans", sans-serif' fill="#444" >2</text>
<line x1="41" y1="293.5" x2="42.5" y2="293.5" stroke="#445" stroke-width="0.8"/>
<text x="40.3" y="270.1" font-size="6.2" text-anchor="end" font-weight="normal" font-family='"Liberation Sans", sans-serif' fill="#444" >3</text>
<line x1="41" y1="268" x2="42.5" y2="268" stroke="#445" stroke-width="0.8"/>
<text x="42.5" y="356" font-size="5.2" text-anchor="middle" font-weight="normal" font-family='"Liberation Sans", sans-serif' fill="#333" >0</text>
<line x1="42.5" y1="350.3" x2="42.5" y2="351.8" stroke="#445" stroke-width="0.8"/>
<text x="65.8" y="356" font-size="5.2" text-anchor="middle" font-weight="normal" font-family='"Liberation Sans", sans-serif' fill="#333" >50</text>
<line x1="65.8" y1="350.3" x2="65.8" y2="351.8" stroke="#445" stroke-width="0.8"/>
<text x="89.1" y="356" font-size="5.2" text-anchor="middle" font-weight="normal" font-family='"Liberation Sans", sans-serif' fill="#333" >100</text>
<line x1="89.1" y1="350.3" x2="89.1" y2="351.8" stroke="#445" stroke-width="0.8"/>
<text x="112.4" y="356" font-size="5.2" text-anchor="middle" font-weight="normal" font-family='"Liberation Sans", sans-serif' fill="#333" >150</text>
<line x1="112.4" y1="350.3" x2="112.4" y2="351.8" stroke="#445" stroke-width="0.8"/>
<text x="135.7" y="356" font-size="5.2" text-anchor="middle" font-weight="normal" font-family='"Liberation Sans", sans-serif' fill="#333" >200</text>
<line x1="135.7" y1="350.3" x2="135.7" y2="351.8" stroke="#445" stroke-width="0.8"/>
<text x="159" y="356" font-size="5.2" text-anchor="middle" font-weight="normal" font-family='"Liberation Sans", sans-serif' fill="#333" >250</text>
<line x1="159" y1="350.3" x2="159" y2="351.8" stroke="#445" stroke-width="0.8"/>
<text x="182.3" y="356" font-size="5.2" text-anchor="middle" font-weight="normal" font-family='"Liberation Sans", sans-serif' fill="#333" >300</text>
<line x1="182.3" y1="350.3" x2="182.3" y2="351.8" stroke="#445" stroke-width="0.8"/>
<text x="119" y="365.5" font-size="6.5" text-anchor="middle" font-weight="normal" font-family='"Liberation Sans", sans-serif' fill="#222" stroke="#222" stroke-width="0.12" >Specific Capacity (mAh g<tspan font-size="4" dy="-2.5">-1</tspan><tspan dy="2.5">)</tspan></text>
<text x="0" y="0" font-size="6.5" text-anchor="middle" font-weight="normal" font-family='"Liberation Sans", sans-serif' fill="#222" stroke="#222" stroke-width="0.12" transform="translate(32.7 302.7) rotate(-90)">Voltage (V, Li<tspan font-size="4.3" dy="-2.3">+</tspan><tspan dy="2.3">/Li)</tspan></text>
<path d="M41 344.89 C41.06 344.13 41.09 342.06 41.31 340.3 C41.54 338.54 41.88 335.92 42.37 334.34 C42.85 332.77 43.45 331.89 44.21 330.85 C44.98 329.82 45.17 329.26 46.96 328.14 C48.76 327.01 52.33 325.21 54.99 324.12 C57.65 323.03 60.03 322.48 62.92 321.57 C65.81 320.67 68.93 319.72 72.33 318.67 C75.72 317.62 78.77 316.56 83.31 315.26 C87.85 313.96 94.35 312.39 99.55 310.87 C104.74 309.34 109.52 307.76 114.49 306.08 C119.46 304.41 125.12 302.67 129.36 300.83 C133.61 299 136.85 297.71 139.97 295.07 C143.1 292.44 145.67 288.37 148.11 285.05 C150.56 281.73 152.81 278.09 154.64 275.15 C156.48 272.21 158.37 268.69 159.11 267.4 L175.79 269 C174.41 270.31 170.73 273.85 167.55 276.85 C164.38 279.84 160.55 283.5 156.73 286.95 C152.91 290.4 148.8 294.72 144.64 297.53 C140.47 300.33 136.56 301.84 131.74 303.77 C126.91 305.7 120.92 307.42 115.7 309.12 C110.49 310.81 105.7 312.4 100.45 313.93 C95.2 315.47 88.72 317.04 84.19 318.34 C79.66 319.64 76.66 320.68 73.27 321.73 C69.89 322.78 66.72 323.73 63.88 324.63 C61.03 325.52 58.75 326.04 56.21 327.08 C53.67 328.12 50.21 329.92 48.64 330.86 C47.07 331.81 47.32 332.02 46.79 332.75 C46.25 333.48 45.82 333.93 45.43 335.26 C45.05 336.58 44.69 339.06 44.49 340.7 C44.28 342.34 44.24 344.37 44.2 345.11 Z" fill="#4656dc" stroke="#4656dc" stroke-width="0.5"/>
<path d="M41.16 344.9 C41.21 344.14 41.25 342.07 41.47 340.32 C41.7 338.57 42.04 335.95 42.52 334.39 C43 332.83 43.59 331.97 44.34 330.95 C45.09 329.93 45.26 329.39 47.05 328.27 C48.83 327.16 52.4 325.36 55.05 324.27 C57.71 323.18 60.08 322.63 62.97 321.73 C65.86 320.82 68.98 319.88 72.37 318.82 C75.77 317.77 78.82 316.72 83.35 315.42 C87.89 314.11 94.39 312.55 99.59 311.02 C104.79 309.49 109.57 307.91 114.55 306.24 C119.53 304.56 125.21 302.82 129.48 300.98 C133.76 299.14 137.03 297.84 140.2 295.2 C143.38 292.56 146.03 288.47 148.54 285.14 C151.06 281.82 153.39 278.18 155.29 275.24 C157.19 272.29 159.17 268.77 159.95 267.48" fill="none" stroke="#7a68d8" stroke-width="0.9" stroke-linejoin="round" />
<path d="M41.8 344.95 C41.85 344.19 41.88 342.13 42.11 340.4 C42.33 338.67 42.68 336.08 43.13 334.57 C43.59 333.06 44.15 332.28 44.86 331.33 C45.56 330.37 45.64 329.9 47.38 328.82 C49.12 327.74 52.67 325.94 55.3 324.86 C57.93 323.78 60.28 323.24 63.16 322.34 C66.04 321.43 69.17 320.49 72.56 319.44 C75.96 318.38 78.99 317.33 83.53 316.03 C88.06 314.73 94.56 313.16 99.77 311.63 C104.98 310.1 109.76 308.52 114.79 306.84 C119.82 305.16 125.57 303.43 129.96 301.57 C134.35 299.71 137.75 298.36 141.14 295.69 C144.52 293.01 147.48 288.88 150.27 285.52 C153.06 282.17 155.7 278.53 157.87 275.58 C160.04 272.62 162.38 269.1 163.28 267.8" fill="none" stroke="#2233aa" stroke-width="0.8" stroke-linejoin="round" />
<path d="M42.34 344.98 C42.39 344.23 42.43 342.18 42.65 340.47 C42.86 338.76 43.21 336.2 43.65 334.73 C44.1 333.26 44.63 332.56 45.29 331.65 C45.96 330.74 45.96 330.33 47.67 329.28 C49.37 328.23 52.89 326.43 55.5 325.36 C58.11 324.29 60.45 323.76 63.32 322.86 C66.19 321.95 69.33 321.01 72.72 319.96 C76.12 318.91 79.15 317.85 83.68 316.55 C88.21 315.25 94.71 313.69 99.93 312.15 C105.15 310.62 109.93 309.04 115 307.36 C120.07 305.68 125.87 303.94 130.36 302.07 C134.85 300.19 138.37 298.81 141.93 296.1 C145.49 293.4 148.71 289.22 151.73 285.85 C154.76 282.47 157.67 278.83 160.07 275.86 C162.46 272.9 165.11 269.37 166.12 268.07" fill="none" stroke="#44cc44" stroke-width="0.7" stroke-linejoin="round" />
<path d="M42.92 345.02 C42.97 344.27 43 342.23 43.22 340.54 C43.43 338.85 43.78 336.32 44.21 334.89 C44.63 333.47 45.13 332.84 45.76 331.99 C46.38 331.14 46.31 330.79 47.97 329.77 C49.63 328.76 53.13 326.96 55.72 325.9 C58.31 324.83 60.63 324.3 63.5 323.41 C66.36 322.51 69.5 321.56 72.89 320.51 C76.29 319.46 79.31 318.41 83.84 317.11 C88.37 315.81 94.86 314.24 100.09 312.71 C105.32 311.17 110.1 309.59 115.22 307.9 C120.33 306.22 126.19 304.49 130.79 302.59 C135.38 300.7 139.02 299.28 142.77 296.55 C146.52 293.81 150.02 289.59 153.29 286.19 C156.56 282.79 159.75 279.14 162.39 276.17 C165.03 273.2 168 269.66 169.12 268.36" fill="none" stroke="#3a50e8" stroke-width="0.8" stroke-linejoin="round" />
<path d="M43.56 345.06 C43.61 344.32 43.64 342.29 43.85 340.62 C44.06 338.96 44.42 336.45 44.82 335.07 C45.22 333.7 45.69 333.16 46.27 332.37 C46.85 331.58 46.69 331.3 48.3 330.32 C49.92 329.34 53.4 327.54 55.96 326.49 C58.53 325.44 60.83 324.91 63.69 324.02 C66.54 323.12 69.7 322.17 73.08 321.12 C76.47 320.07 79.48 319.02 84.01 317.72 C88.55 316.42 95.03 314.86 100.27 313.32 C105.51 311.79 110.29 310.2 115.46 308.51 C120.62 306.82 126.55 305.09 131.26 303.18 C135.97 301.27 139.75 299.8 143.7 297.04 C147.66 294.27 151.47 289.99 155.01 286.57 C158.55 283.15 162.07 279.49 164.97 276.51 C167.88 273.53 171.21 269.98 172.45 268.68" fill="none" stroke="#6a60d8" stroke-width="0.7" stroke-linejoin="round" />
<path d="M44.1 345.1 C44.15 344.37 44.19 342.34 44.39 340.69 C44.6 339.05 44.95 336.56 45.34 335.23 C45.73 333.9 46.17 333.43 46.71 332.69 C47.25 331.95 47.01 331.73 48.59 330.78 C50.16 329.83 53.63 328.03 56.17 326.99 C58.71 325.95 61 325.43 63.85 324.53 C66.7 323.64 69.86 322.68 73.24 321.64 C76.63 320.59 79.63 319.54 84.16 318.25 C88.69 316.95 95.17 315.38 100.42 313.84 C105.67 312.31 110.46 310.72 115.67 309.03 C120.87 307.33 126.86 305.61 131.67 303.68 C136.47 301.75 140.36 300.25 144.5 297.45 C148.63 294.65 152.7 290.34 156.48 286.89 C160.25 283.45 164.03 279.79 167.17 276.8 C170.3 273.81 173.93 270.26 175.29 268.95" fill="none" stroke="#9a80e8" stroke-width="0.8" stroke-linejoin="round" />
<path d="M44.4 280.89 C44.49 282.21 44.71 286.53 44.99 288.82 C45.27 291.11 45.66 292.96 46.06 294.65 C46.46 296.35 46.89 297.6 47.41 298.98 C47.92 300.36 48.5 301.65 49.14 302.93 C49.78 304.21 50.52 305.58 51.24 306.66 C51.96 307.73 52.1 308.19 53.48 309.36 C54.85 310.54 57.5 312.53 59.51 313.7 C61.51 314.88 63.23 315.58 65.5 316.39 C67.78 317.19 70.6 317.89 73.17 318.55 C75.74 319.21 78.07 319.69 80.93 320.34 C83.79 320.98 87.1 321.74 90.32 322.43 C93.54 323.13 94.44 323.51 100.26 324.52 C106.08 325.54 117.6 327.3 125.24 328.52 C132.88 329.74 141.19 330.85 146.11 331.83 C151.02 332.81 151.83 333.36 154.73 334.41 C157.64 335.46 160.68 337.02 163.55 338.13 C166.43 339.24 169.6 340.3 172 341.09 C174.4 341.88 176.97 342.58 177.97 342.87 L166.53 345.73 C165.72 345.42 163.52 344.72 161.67 343.91 C159.83 343.1 157.46 341.99 155.47 340.87 C153.47 339.75 151.68 338.2 149.71 337.19 C147.74 336.17 147.79 335.72 143.63 334.77 C139.47 333.82 132.07 332.7 124.76 331.48 C117.45 330.27 105.59 328.5 99.74 327.48 C93.9 326.46 92.93 326.07 89.68 325.37 C86.44 324.66 83.14 323.92 80.27 323.26 C77.39 322.61 75.06 322.13 72.43 321.45 C69.8 320.78 66.9 320.07 64.5 319.21 C62.09 318.35 60.16 317.56 57.99 316.3 C55.83 315.03 53.06 312.96 51.52 311.64 C49.98 310.31 49.6 309.57 48.76 308.34 C47.92 307.12 47.15 305.66 46.46 304.27 C45.76 302.88 45.15 301.51 44.59 300.02 C44.04 298.54 43.57 297.15 43.14 295.35 C42.71 293.54 42.3 291.55 42.01 289.18 C41.72 286.81 41.51 282.46 41.4 281.11 Z" fill="#4656dc" stroke="#4656dc" stroke-width="0.5"/>
<path d="M44.25 280.9 C44.35 282.22 44.56 286.54 44.84 288.84 C45.12 291.14 45.51 292.99 45.91 294.69 C46.32 296.39 46.75 297.64 47.27 299.03 C47.78 300.41 48.37 301.71 49.01 303 C49.65 304.28 50.39 305.66 51.12 306.74 C51.84 307.82 51.99 308.29 53.38 309.48 C54.76 310.66 57.42 312.66 59.43 313.83 C61.44 315.01 63.17 315.72 65.45 316.53 C67.74 317.34 70.56 318.03 73.14 318.69 C75.71 319.35 78.04 319.84 80.9 320.48 C83.76 321.13 87.06 321.88 90.29 322.58 C93.51 323.28 94.41 323.66 100.23 324.67 C106.05 325.68 117.59 327.45 125.22 328.67 C132.84 329.89 141.1 331 145.98 331.98 C150.86 332.96 151.62 333.5 154.48 334.55 C157.34 335.6 160.32 337.15 163.15 338.27 C165.98 339.38 169.11 340.44 171.48 341.23 C173.86 342.03 176.41 342.72 177.39 343.02" fill="none" stroke="#3a50e8" stroke-width="0.8" stroke-linejoin="round" />
<path d="M43.65 280.94 C43.75 282.27 43.96 286.6 44.24 288.91 C44.52 291.22 44.92 293.1 45.33 294.83 C45.74 296.55 46.18 297.83 46.7 299.24 C47.23 300.64 47.82 301.96 48.47 303.26 C49.12 304.57 49.87 305.97 50.62 307.08 C51.37 308.19 51.57 308.72 52.99 309.93 C54.41 311.14 57.08 313.16 59.13 314.35 C61.17 315.55 62.94 316.27 65.25 317.09 C67.56 317.91 70.4 318.61 72.99 319.27 C75.57 319.94 77.9 320.42 80.77 321.07 C83.63 321.72 86.93 322.47 90.16 323.17 C93.39 323.87 94.3 324.25 100.13 325.26 C105.96 326.28 117.56 328.04 125.12 329.26 C132.68 330.48 140.76 331.59 145.49 332.57 C150.21 333.54 150.8 334.07 153.48 335.11 C156.15 336.15 158.88 337.7 161.53 338.82 C164.19 339.93 167.16 341 169.42 341.8 C171.68 342.59 174.16 343.29 175.11 343.59" fill="none" stroke="#44cc44" stroke-width="0.7" stroke-linejoin="round" />
<path d="M42.9 281 C43 282.33 43.22 286.67 43.5 289 C43.78 291.33 44.18 293.25 44.6 295 C45.02 296.75 45.47 298.07 46 299.5 C46.53 300.93 47.13 302.27 47.8 303.6 C48.47 304.93 49.22 306.35 50 307.5 C50.78 308.65 51.04 309.25 52.5 310.5 C53.96 311.75 56.67 313.78 58.75 315 C60.83 316.22 62.66 316.97 65 317.8 C67.34 318.63 70.2 319.33 72.8 320 C75.4 320.67 77.73 321.15 80.6 321.8 C83.47 322.45 86.77 323.2 90 323.9 C93.23 324.6 94.17 324.98 100 326 C105.83 327.02 117.52 328.78 125 330 C132.48 331.22 140.33 332.33 144.87 333.3 C149.4 334.27 149.78 334.77 152.22 335.8 C154.66 336.83 157.07 338.38 159.51 339.5 C161.95 340.62 164.71 341.7 166.84 342.5 C168.96 343.3 171.35 344 172.25 344.3" fill="none" stroke="#2233aa" stroke-width="0.8" stroke-linejoin="round" />
<path d="M42.24 281.05 C42.34 282.39 42.56 286.73 42.84 289.08 C43.13 291.43 43.54 293.38 43.96 295.15 C44.38 296.93 44.84 298.27 45.38 299.73 C45.92 301.19 46.53 302.54 47.21 303.9 C47.89 305.25 48.64 306.69 49.45 307.87 C50.26 309.06 50.58 309.72 52.07 311 C53.56 312.28 56.3 314.33 58.42 315.57 C60.54 316.81 62.41 317.58 64.78 318.42 C67.15 319.27 70.02 319.97 72.64 320.64 C75.25 321.31 77.58 321.79 80.45 322.44 C83.32 323.09 86.62 323.84 89.86 324.55 C93.1 325.25 94.05 325.63 99.89 326.65 C105.73 327.67 117.49 329.44 124.89 330.65 C132.3 331.87 139.95 332.99 144.32 333.95 C148.69 334.91 148.88 335.38 151.12 336.41 C153.35 337.44 155.49 338.98 157.73 340.1 C159.97 341.22 162.56 342.32 164.56 343.12 C166.57 343.92 168.87 344.63 169.73 344.93" fill="none" stroke="#3344bb" stroke-width="0.8" stroke-linejoin="round" />
<path d="M41.49 281.11 C41.6 282.45 41.81 286.8 42.1 289.17 C42.39 291.54 42.8 293.52 43.23 295.33 C43.66 297.13 44.13 298.51 44.68 299.99 C45.23 301.48 45.85 302.85 46.54 304.23 C47.23 305.61 47.99 307.07 48.83 308.29 C49.68 309.52 50.05 310.25 51.58 311.57 C53.12 312.89 55.88 314.96 58.04 316.22 C60.2 317.48 62.13 318.27 64.53 319.13 C66.93 319.99 69.82 320.69 72.45 321.37 C75.08 322.04 77.41 322.52 80.29 323.18 C83.16 323.83 86.46 324.58 89.7 325.28 C92.95 325.98 93.91 326.37 99.76 327.39 C105.6 328.41 117.45 330.18 124.77 331.39 C132.1 332.61 139.52 333.73 143.7 334.68 C147.88 335.63 147.86 336.09 149.86 337.1 C151.86 338.12 153.69 339.67 155.71 340.79 C157.73 341.91 160.12 343.01 161.98 343.82 C163.84 344.63 166.06 345.34 166.88 345.64" fill="none" stroke="#8a70e0" stroke-width="0.9" stroke-linejoin="round" />
<path d="M150 333.6 C151.67 333.87 156.67 334.57 160 335.2 C163.33 335.83 166.25 336.42 170 337.4 C173.75 338.38 178.75 339.95 182.5 341.1 C186.25 342.25 190.83 343.77 192.5 344.3" fill="none" stroke="#9a70e0" stroke-width="0.9" stroke-linejoin="round" />
<path d="M151.9 285 C152.42 283.83 154.1 280.8 155 278 C155.9 275.2 156.92 269.83 157.3 268.2" fill="none" stroke="#9a80e0" stroke-width="0.7" stroke-linejoin="round" />
<line x1="52.9" y1="269.2" x2="62.5" y2="269.2" stroke="#9a80e0" stroke-width="1.3"/>
<text x="64.9" y="271" font-size="5" text-anchor="start" font-weight="bold" font-family='"Liberation Sans", sans-serif' fill="#222" stroke="#222" stroke-width="0.12" >2<tspan font-size="3.3" dy="-2">nd</tspan><tspan dy="2">-10</tspan><tspan font-size="3.3" dy="-2">th</tspan><tspan dy="2"> cycle</tspan></text>
<line x1="52.9" y1="276" x2="62.5" y2="276" stroke="#8898e0" stroke-width="1.3"/>
<text x="64.9" y="277.8" font-size="5" text-anchor="start" font-weight="bold" font-family='"Liberation Sans", sans-serif' fill="#222" stroke="#222" stroke-width="0.12" >101<tspan font-size="3.3" dy="-2">st</tspan><tspan dy="2">-110</tspan><tspan font-size="3.3" dy="-2">th</tspan><tspan dy="2"> cycle</tspan></text>
<line x1="52.9" y1="282.8" x2="62.5" y2="282.8" stroke="#80dd80" stroke-width="1.3"/>
<text x="64.9" y="284.6" font-size="5" text-anchor="start" font-weight="bold" font-family='"Liberation Sans", sans-serif' fill="#222" stroke="#222" stroke-width="0.12" >201<tspan font-size="3.3" dy="-2">st</tspan><tspan dy="2">-210</tspan><tspan font-size="3.3" dy="-2">th</tspan><tspan dy="2"> cycle</tspan></text>
<line x1="52.9" y1="289.6" x2="62.5" y2="289.6" stroke="#e080d0" stroke-width="1.3"/>
<text x="64.9" y="291.4" font-size="5" text-anchor="start" font-weight="bold" font-family='"Liberation Sans", sans-serif' fill="#222" stroke="#222" stroke-width="0.12" >351<tspan font-size="3.3" dy="-2">st</tspan><tspan dy="2">-360</tspan><tspan font-size="3.3" dy="-2">th</tspan><tspan dy="2"> cycle</tspan></text>
<line x1="52.9" y1="296.4" x2="62.5" y2="296.4" stroke="#7090e0" stroke-width="1.3"/>
<text x="64.9" y="298.2" font-size="5" text-anchor="start" font-weight="bold" font-family='"Liberation Sans", sans-serif' fill="#222" stroke="#222" stroke-width="0.12" >490<tspan font-size="3.3" dy="-2">th</tspan><tspan dy="2">-500</tspan><tspan font-size="3.3" dy="-2">th</tspan><tspan dy="2"> cycle</tspan></text>
<text x="118.5" y="316.5" font-size="6.6" text-anchor="start" font-weight="bold" font-family='"Liberation Serif", serif' fill="#222" stroke="#222" stroke-width="0.15" >~85% Capacity at 0.45 V</text>
<line x1="157" y1="320" x2="147.5" y2="332" stroke="#55dd33" stroke-width="1"/>
<rect x="225.4" y="263.3" width="152.9" height="87" fill="none" stroke="#707c82" stroke-width="1.1"/>
<line x1="225.4" y1="350.3" x2="378.3" y2="350.3" stroke="#6878a8" stroke-width="1.1"/>
<text x="199.4" y="273.9" font-size="13.4" text-anchor="start" font-weight="normal" font-family='"Liberation Serif", serif' fill="#111" stroke="#111" stroke-width="0.35" >(e)</text>
<text x="223.6" y="346.7" font-size="6.2" text-anchor="end" font-weight="normal" font-family='"Liberation Sans", sans-serif' fill="#444" >0</text>
<line x1="223.9" y1="344.6" x2="225.4" y2="344.6" stroke="#445" stroke-width="0.8"/>
<text x="223.6" y="321.5" font-size="6.2" text-anchor="end" font-weight="normal" font-family='"Liberation Sans", sans-serif' fill="#444" >1</text>
<line x1="223.9" y1="319.4" x2="225.4" y2="319.4" stroke="#445" stroke-width="0.8"/>
<text x="223.6" y="296.1" font-size="6.2" text-anchor="end" font-weight="normal" font-family='"Liberation Sans", sans-serif' fill="#444" >2</text>
<line x1="223.9" y1="294" x2="225.4" y2="294" stroke="#445" stroke-width="0.8"/>
<text x="223.6" y="270.3" font-size="6.2" text-anchor="end" font-weight="normal" font-family='"Liberation Sans", sans-serif' fill="#444" >3</text>
<line x1="223.9" y1="268.2" x2="225.4" y2="268.2" stroke="#445" stroke-width="0.8"/>
<text x="224.8" y="356.3" font-size="5.2" text-anchor="middle" font-weight="normal" font-family='"Liberation Sans", sans-serif' fill="#333" >0</text>
<line x1="224.8" y1="350.3" x2="224.8" y2="351.8" stroke="#445" stroke-width="0.8"/>
<text x="254.65" y="356.3" font-size="5.2" text-anchor="middle" font-weight="normal" font-family='"Liberation Sans", sans-serif' fill="#333" >100</text>
<line x1="254.65" y1="350.3" x2="254.65" y2="351.8" stroke="#445" stroke-width="0.8"/>
<text x="284.5" y="356.3" font-size="5.2" text-anchor="middle" font-weight="normal" font-family='"Liberation Sans", sans-serif' fill="#333" >200</text>
<line x1="284.5" y1="350.3" x2="284.5" y2="351.8" stroke="#445" stroke-width="0.8"/>
<text x="314.35" y="356.3" font-size="5.2" text-anchor="middle" font-weight="normal" font-family='"Liberation Sans", sans-serif' fill="#333" >300</text>
<line x1="314.35" y1="350.3" x2="314.35" y2="351.8" stroke="#445" stroke-width="0.8"/>
<text x="344.2" y="356.3" font-size="5.2" text-anchor="middle" font-weight="normal" font-family='"Liberation Sans", sans-serif' fill="#333" >400</text>
<line x1="344.2" y1="350.3" x2="344.2" y2="351.8" stroke="#445" stroke-width="0.8"/>
<text x="374.05" y="356.3" font-size="5.2" text-anchor="middle" font-weight="normal" font-family='"Liberation Sans", sans-serif' fill="#333" >500</text>
<line x1="374.05" y1="350.3" x2="374.05" y2="351.8" stroke="#445" stroke-width="0.8"/>
<text x="302" y="365.5" font-size="6.5" text-anchor="middle" font-weight="normal" font-family='"Liberation Sans", sans-serif' fill="#222" stroke="#222" stroke-width="0.12" >Specific Capacity (mAh g<tspan font-size="4" dy="-2.5">-1</tspan><tspan dy="2.5">)</tspan></text>
<text x="0" y="0" font-size="6.5" text-anchor="middle" font-weight="normal" font-family='"Liberation Sans", sans-serif' fill="#222" stroke="#222" stroke-width="0.12" transform="translate(214.6 303.6) rotate(-90)">Voltage (V, Li<tspan font-size="4.3" dy="-2.3">+</tspan><tspan dy="2.3">/Li)</tspan></text>
<path d="M225.6 345.48 C225.75 343.71 225.57 338.06 226.5 334.88 C227.43 331.69 229.62 328.31 231.15 326.38 C232.68 324.44 233.88 324.21 235.67 323.27 C237.46 322.34 238.85 321.81 241.89 320.77 C244.94 319.74 250.08 318.36 253.94 317.07 C257.81 315.79 260.81 315.17 265.11 313.07 C269.41 310.98 275.52 307.12 279.75 304.48 C283.98 301.83 286.76 300.01 290.5 297.18 C294.24 294.34 298.28 291.06 302.21 287.48 C306.13 283.89 311.3 278.71 314.06 275.68 C316.83 272.64 318.01 270.34 318.8 269.27" fill="none" stroke="#aa99ee" stroke-width="1.2" stroke-linejoin="round" />
<path d="M225.8 284.8 C225.88 286.37 225.82 291.07 226.3 294.2 C226.78 297.33 227.4 301.07 228.7 303.6 C230 306.13 232.22 307.67 234.1 309.4 C235.98 311.13 237.08 312.35 240 314 C242.92 315.65 247.88 317.67 251.6 319.3 C255.32 320.93 259.9 322.83 262.3 323.8 C264.7 324.77 263.87 324.3 266 325.1 C268.13 325.9 272.02 327.4 275.1 328.6 C278.18 329.8 281.21 330.97 284.45 332.3 C287.7 333.63 291.16 335.13 294.58 336.6 C297.99 338.07 302.19 339.97 304.95 341.1 C307.71 342.23 309.12 342.78 311.14 343.4 C313.17 344.02 314.96 344.47 317.08 344.8 C319.2 345.13 322.74 345.3 323.87 345.4" fill="none" stroke="#aa99ee" stroke-width="1.15" stroke-linejoin="round" />
<path d="M225.6 344.98 C225.75 343.21 225.63 337.56 226.5 334.38 C227.37 331.19 229.37 327.81 230.82 325.88 C232.28 323.94 233.47 323.71 235.22 322.77 C236.98 321.84 238.34 321.31 241.35 320.27 C244.36 319.24 249.45 317.86 253.27 316.57 C257.1 315.29 260.07 314.67 264.31 312.57 C268.54 310.48 274.53 306.62 278.68 303.98 C282.83 301.33 285.55 299.51 289.22 296.68 C292.88 293.84 296.82 290.56 300.65 286.98 C304.48 283.39 309.5 278.21 312.19 275.18 C314.88 272.14 316.03 269.84 316.8 268.77" fill="none" stroke="#44cc44" stroke-width="1.2" stroke-linejoin="round" />
<path d="M225.6 344.48 C225.75 342.71 225.68 337.06 226.5 333.88 C227.32 330.69 229.11 327.31 230.49 325.38 C231.87 323.44 233.05 323.21 234.77 322.27 C236.49 321.34 237.84 320.81 240.81 319.77 C243.78 318.74 248.82 317.36 252.6 316.07 C256.39 314.79 259.34 314.17 263.5 312.07 C267.67 309.98 273.54 306.12 277.61 303.48 C281.68 300.83 284.35 299.01 287.93 296.18 C291.51 293.34 295.36 290.06 299.09 286.48 C302.82 282.89 307.69 277.71 310.31 274.68 C312.93 271.64 314.05 269.34 314.8 268.27" fill="none" stroke="#3344cc" stroke-width="1.2" stroke-linejoin="round" />
<path d="M225.8 284.16 C225.88 285.73 225.82 290.43 226.3 293.56 C226.78 296.69 227.4 300.43 228.7 302.96 C230 305.49 232.22 307.03 234.1 308.76 C235.98 310.49 237.08 311.71 240 313.36 C242.92 315.01 247.88 317.03 251.6 318.66 C255.32 320.29 259.9 322.19 262.3 323.16 C264.7 324.13 263.87 323.66 266 324.46 C268.13 325.26 272.06 326.76 275.1 327.96 C278.14 329.16 281.17 330.33 284.25 331.66 C287.33 332.99 290.45 334.49 293.56 335.96 C296.67 337.43 300.41 339.33 302.91 340.46 C305.41 341.59 306.68 342.14 308.55 342.76 C310.42 343.38 312.1 343.83 314.14 344.16 C316.17 344.49 319.67 344.66 320.77 344.76" fill="none" stroke="#3344cc" stroke-width="1.15" stroke-linejoin="round" />
<path d="M225.6 343.73 C225.75 341.96 225.77 336.31 226.5 333.12 C227.23 329.94 228.73 326.56 230 324.62 C231.27 322.69 232.43 322.46 234.1 321.52 C235.77 320.59 237.08 320.06 240 319.02 C242.92 317.99 247.88 316.61 251.6 315.32 C255.32 314.04 258.23 313.42 262.3 311.32 C266.37 309.23 272.05 305.38 276 302.73 C279.95 300.08 282.54 298.26 286 295.43 C289.46 292.59 293.17 289.31 296.75 285.73 C300.33 282.14 304.99 276.96 307.5 273.93 C310.01 270.89 311.08 268.59 311.8 267.52" fill="none" stroke="#2233bb" stroke-width="1.2" stroke-linejoin="round" />
<path d="M225.8 283.84 C225.88 285.41 225.82 290.11 226.3 293.24 C226.78 296.37 227.4 300.11 228.7 302.64 C230 305.17 232.22 306.71 234.1 308.44 C235.98 310.17 237.08 311.39 240 313.04 C242.92 314.69 247.88 316.71 251.6 318.34 C255.32 319.97 259.9 321.87 262.3 322.84 C264.7 323.81 263.87 323.34 266 324.14 C268.13 324.94 272.08 326.44 275.1 327.64 C278.12 328.84 281.16 330.01 284.15 331.34 C287.14 332.67 290.09 334.17 293.04 335.64 C296 337.11 299.52 339.01 301.89 340.14 C304.26 341.27 305.46 341.82 307.25 342.44 C309.05 343.06 310.67 343.51 312.66 343.84 C314.66 344.17 318.13 344.34 319.23 344.44" fill="none" stroke="#2233bb" stroke-width="1.15" stroke-linejoin="round" />
<path d="M225.6 343.98 C225.75 342.21 225.74 336.56 226.5 333.38 C227.26 330.19 228.86 326.81 230.16 324.88 C231.47 322.94 232.64 322.71 234.32 321.77 C236.01 320.84 237.34 320.31 240.27 319.27 C243.21 318.24 248.2 316.86 251.93 315.57 C255.67 314.29 258.6 313.67 262.7 311.57 C266.8 309.48 272.55 305.62 276.54 302.98 C280.53 300.33 283.14 298.51 286.64 295.68 C290.14 292.84 293.9 289.56 297.53 285.98 C301.16 282.39 305.89 277.21 308.44 274.18 C310.98 271.14 312.07 268.84 312.8 267.77" fill="none" stroke="#1a2a99" stroke-width="1.2" stroke-linejoin="round" />
<path d="M225.8 283.52 C225.88 285.09 225.82 289.79 226.3 292.92 C226.78 296.05 227.4 299.79 228.7 302.32 C230 304.85 232.22 306.39 234.1 308.12 C235.98 309.85 237.08 311.07 240 312.72 C242.92 314.37 247.88 316.39 251.6 318.02 C255.32 319.65 259.9 321.55 262.3 322.52 C264.7 323.49 263.87 323.02 266 323.82 C268.13 324.62 272.09 326.12 275.1 327.32 C278.11 328.52 281.14 329.69 284.05 331.02 C286.95 332.35 289.73 333.85 292.53 335.32 C295.34 336.79 298.63 338.69 300.87 339.82 C303.11 340.95 304.23 341.5 305.95 342.12 C307.67 342.74 309.24 343.19 311.19 343.52 C313.14 343.85 316.6 344.02 317.68 344.12" fill="none" stroke="#1a2a99" stroke-width="1.15" stroke-linejoin="round" />
<path d="M225.6 344.23 C225.75 342.46 225.71 336.81 226.5 333.62 C227.29 330.44 228.99 327.06 230.33 325.12 C231.67 323.19 232.85 322.96 234.55 322.02 C236.25 321.09 237.59 320.56 240.54 319.52 C243.49 318.49 248.51 317.11 252.27 315.82 C256.03 314.54 258.97 313.92 263.1 311.82 C267.24 309.73 273.04 305.88 277.07 303.23 C281.1 300.58 283.75 298.76 287.29 295.93 C290.83 293.09 294.63 289.81 298.31 286.23 C301.99 282.64 306.79 277.46 309.38 274.43 C311.96 271.39 313.06 269.09 313.8 268.02" fill="none" stroke="#3040c0" stroke-width="1.2" stroke-linejoin="round" />
<path d="M225.8 283.2 C225.88 284.77 225.82 289.47 226.3 292.6 C226.78 295.73 227.4 299.47 228.7 302 C230 304.53 232.22 306.07 234.1 307.8 C235.98 309.53 237.08 310.75 240 312.4 C242.92 314.05 247.88 316.07 251.6 317.7 C255.32 319.33 259.9 321.23 262.3 322.2 C264.7 323.17 263.87 322.7 266 323.5 C268.13 324.3 272.11 325.8 275.1 327 C278.09 328.2 281.13 329.37 283.95 330.7 C286.77 332.03 289.37 333.53 292.02 335 C294.67 336.47 297.75 338.37 299.85 339.5 C301.96 340.63 303.01 341.18 304.66 341.8 C306.3 342.42 307.81 342.87 309.72 343.2 C311.63 343.53 315.06 343.7 316.13 343.8" fill="none" stroke="#3040c0" stroke-width="1.15" stroke-linejoin="round" />
<path d="M225.8 281 C225.88 282.62 225.82 287.78 226.3 290.75 C226.78 293.72 227.4 296.43 228.7 298.8 C230 301.18 232.22 303.1 234.1 305 C235.98 306.9 237.08 308.43 240 310.2 C242.92 311.97 247.88 313.9 251.6 315.6 C255.32 317.3 258.9 318.83 262.3 320.4 C265.7 321.97 269.05 323.67 272 325 C274.95 326.33 277.97 327.53 280 328.4 C282.03 329.27 281.98 329.13 284.2 330.2 C286.42 331.27 290.27 333.23 293.3 334.8 C296.33 336.37 299.62 338.3 302.4 339.6 C305.18 340.9 307.4 341.82 310 342.6 C312.6 343.38 315.67 343.97 318 344.3 C320.33 344.63 323 344.55 324 344.6" fill="none" stroke="#44cc44" stroke-width="1.1" stroke-linejoin="round" />
<path d="M225.8 280 C225.88 280.93 225.82 283.58 226.3 285.6 C226.78 287.62 227.4 289.82 228.7 292.1 C230 294.38 232.22 297.18 234.1 299.3 C235.98 301.42 237.08 302.85 240 304.8 C242.92 306.75 247.88 309.2 251.6 311 C255.32 312.8 258.9 314.07 262.3 315.6 C265.7 317.13 269.05 318.77 272 320.2 C274.95 321.63 277.97 323.2 280 324.2 C282.03 325.2 280.87 324.92 284.2 326.2 C287.53 327.48 294.87 330.22 300 331.9 C305.13 333.58 310.83 334.95 315 336.3 C319.17 337.65 321.67 338.93 325 340 C328.33 341.07 332.17 342.03 335 342.7 C337.83 343.37 340.83 343.78 342 344" fill="none" stroke="#dd44cc" stroke-width="1.25" stroke-linejoin="round" />
<path d="M225.6 344.6 C225.83 343 225.58 337.88 227 335 C228.42 332.12 231.93 329.27 234.1 327.3 C236.27 325.33 237.08 324.55 240 323.2 C242.92 321.85 247.88 320.5 251.6 319.2 C255.32 317.9 258.9 316.55 262.3 315.4 C265.7 314.25 269.05 313.28 272 312.3 C274.95 311.32 277.67 310.58 280 309.5 C282.33 308.42 283.21 307.63 286 305.8 C288.79 303.97 293.17 301.07 296.75 298.5 C300.33 295.93 303.91 293 307.5 290.4 C311.09 287.8 315.22 284.97 318.3 282.9 C321.38 280.83 323.05 279.9 326 278 C328.95 276.1 333.35 273.13 336 271.5 C338.65 269.87 340.92 268.75 341.9 268.2" fill="none" stroke="#dd44cc" stroke-width="1.25" stroke-linejoin="round" />
<path d="M225.8 275 C225.88 275.92 225.82 278.1 226.3 280.5 C226.78 282.9 227.4 286.73 228.7 289.4 C230 292.07 232.22 294.47 234.1 296.5 C235.98 298.53 237.08 299.72 240 301.6 C242.92 303.48 247.88 306 251.6 307.8 C255.32 309.6 258.9 310.78 262.3 312.4 C265.7 314.02 269.05 316.07 272 317.5 C274.95 318.93 277.97 320.15 280 321 C282.03 321.85 280.87 321.67 284.2 322.6 C287.53 323.53 294.03 325.23 300 326.6 C305.97 327.97 313.33 329.48 320 330.8 C326.67 332.12 334.17 333.37 340 334.5 C345.83 335.63 350.83 336.58 355 337.6 C359.17 338.62 362.17 339.73 365 340.6 C367.83 341.47 369.83 342.23 372 342.8 C374.17 343.37 377 343.8 378 344" fill="none" stroke="#4466dd" stroke-width="1.2" stroke-linejoin="round" />
<path d="M225.6 344.6 C226 343.08 226.58 338.03 228 335.5 C229.42 332.97 232.1 331.02 234.1 329.4 C236.1 327.78 237.08 326.97 240 325.8 C242.92 324.63 247.88 323.5 251.6 322.4 C255.32 321.3 258.9 320.2 262.3 319.2 C265.7 318.2 269.05 317.27 272 316.4 C274.95 315.53 276.77 315.07 280 314 C283.23 312.93 288.61 311.15 291.4 310 C294.19 308.85 294.07 308.38 296.75 307.1 C299.43 305.82 303.91 303.82 307.5 302.3 C311.09 300.78 315.22 299.35 318.3 298 C321.38 296.65 323.05 295.7 326 294.2 C328.95 292.7 331.45 291.53 336 289 C340.55 286.47 346.78 282.47 353.3 279 C359.82 275.53 371.47 270 375.1 268.2" fill="none" stroke="#4466dd" stroke-width="1.2" stroke-linejoin="round" />
<line x1="233.9" y1="267.9" x2="245" y2="267.9" stroke="#a898f0" stroke-width="1.3"/>
<text x="246.5" y="269.7" font-size="5" text-anchor="start" font-weight="bold" font-family='"Liberation Sans", sans-serif' fill="#222" stroke="#222" stroke-width="0.12" >2<tspan font-size="3.3" dy="-2">nd</tspan><tspan dy="2">-10</tspan><tspan font-size="3.3" dy="-2">th</tspan><tspan dy="2"> cycle</tspan></text>
<line x1="233.9" y1="274.75" x2="245" y2="274.75" stroke="#3050e0" stroke-width="1.3"/>
<text x="246.5" y="276.55" font-size="5" text-anchor="start" font-weight="bold" font-family='"Liberation Sans", sans-serif' fill="#222" stroke="#222" stroke-width="0.12" >101<tspan font-size="3.3" dy="-2">st</tspan><tspan dy="2">-110</tspan><tspan font-size="3.3" dy="-2">th</tspan><tspan dy="2"> cycle</tspan></text>
<line x1="233.9" y1="281.6" x2="245" y2="281.6" stroke="#40e040" stroke-width="1.3"/>
<text x="246.5" y="283.4" font-size="5" text-anchor="start" font-weight="bold" font-family='"Liberation Sans", sans-serif' fill="#222" stroke="#222" stroke-width="0.12" >201<tspan font-size="3.3" dy="-2">st</tspan><tspan dy="2">-210</tspan><tspan font-size="3.3" dy="-2">th</tspan><tspan dy="2"> cycle</tspan></text>
<line x1="233.9" y1="288.45" x2="245" y2="288.45" stroke="#e050d0" stroke-width="1.3"/>
<text x="246.5" y="290.25" font-size="5" text-anchor="start" font-weight="bold" font-family='"Liberation Sans", sans-serif' fill="#222" stroke="#222" stroke-width="0.12" >351<tspan font-size="3.3" dy="-2">st</tspan><tspan dy="2">-360</tspan><tspan font-size="3.3" dy="-2">th</tspan><tspan dy="2"> cycle</tspan></text>
<line x1="233.9" y1="295.3" x2="245" y2="295.3" stroke="#4a70e8" stroke-width="1.3"/>
<text x="246.5" y="297.1" font-size="5" text-anchor="start" font-weight="bold" font-family='"Liberation Sans", sans-serif' fill="#222" stroke="#222" stroke-width="0.12" >490<tspan font-size="3.3" dy="-2">th</tspan><tspan dy="2">-500</tspan><tspan font-size="3.3" dy="-2">th</tspan><tspan dy="2"> cycle</tspan></text>
<text x="300.3" y="315.6" font-size="6.7" text-anchor="start" font-weight="bold" font-family='"Liberation Serif", serif' fill="#222" stroke="#222" stroke-width="0.15" >~65% Capacity at 0.45 V</text>
<line x1="296.5" y1="316.3" x2="291.8" y2="327.3" stroke="#55dd33" stroke-width="1"/>
</svg>
</body></html>
